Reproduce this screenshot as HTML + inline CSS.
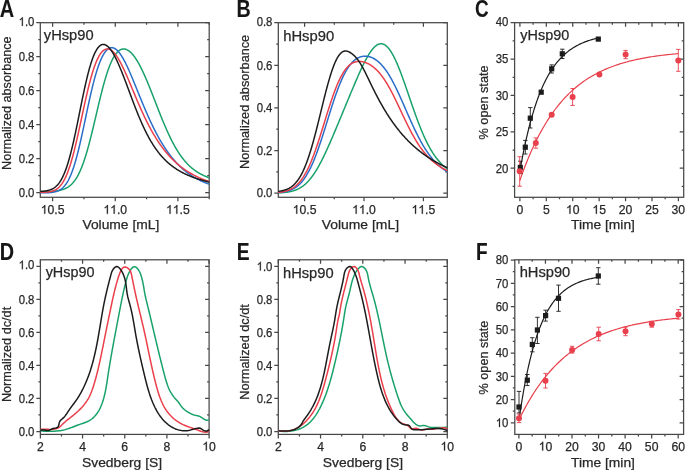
<!DOCTYPE html>
<html><head><meta charset="utf-8"><style>
html,body{margin:0;padding:0;background:#fff;}
body{width:685px;height:470px;overflow:hidden;}
svg{display:block;will-change:transform;}
text{font-family:"Liberation Sans", sans-serif;fill:#282828;stroke:#282828;stroke-width:0.25px;}
path.g1{fill:#282828;stroke:#282828;}
text.L{fill:#161616;stroke:#161616;stroke-width:0.1px;}
</style></head><body>
<svg width="685" height="470" viewBox="0 0 685 470">
<rect x="40.3" y="22.7" width="168.90" height="174.60" fill="none" stroke="#484848" stroke-width="1.25"/>
<path d="M52.60 197.3v4M52.60 22.7v4M115.25 197.3v4M115.25 22.7v4M177.90 197.3v4M177.90 22.7v4M83.93 197.3v2M83.93 22.7v2M146.58 197.3v2M146.58 22.7v2M209.22 197.3v2M209.22 22.7v2M40.3 192.50h-4M209.2 192.50h-4M40.3 158.52h-4M209.2 158.52h-4M40.3 124.54h-4M209.2 124.54h-4M40.3 90.56h-4M209.2 90.56h-4M40.3 56.58h-4M209.2 56.58h-4M40.3 22.60h-4M209.2 22.60h-4M40.3 175.51h-2M209.2 175.51h-2M40.3 141.53h-2M209.2 141.53h-2M40.3 107.55h-2M209.2 107.55h-2M40.3 73.57h-2M209.2 73.57h-2M40.3 39.59h-2M209.2 39.59h-2" stroke="#484848" stroke-width="1.25" fill="none"/>
<text x="40.73" y="213.80" font-size="12.2"> 0.5</text><path class="g1" transform="translate(40.73 213.80) scale(0.00596 -0.00596)" d="M763 0H583V1147Q518 1085 412.5 1023T223 930V1104Q374 1175 487 1276T647 1472H763Z" stroke-width="42.0"/>
<text x="103.38" y="213.80" font-size="12.2">  .0</text><path class="g1" transform="translate(103.38 213.80) scale(0.00596 -0.00596)" d="M763 0H583V1147Q518 1085 412.5 1023T223 930V1104Q374 1175 487 1276T647 1472H763Z" stroke-width="42.0"/><path class="g1" transform="translate(110.16 213.80) scale(0.00596 -0.00596)" d="M763 0H583V1147Q518 1085 412.5 1023T223 930V1104Q374 1175 487 1276T647 1472H763Z" stroke-width="42.0"/>
<text x="166.03" y="213.80" font-size="12.2">  .5</text><path class="g1" transform="translate(166.03 213.80) scale(0.00596 -0.00596)" d="M763 0H583V1147Q518 1085 412.5 1023T223 930V1104Q374 1175 487 1276T647 1472H763Z" stroke-width="42.0"/><path class="g1" transform="translate(172.81 213.80) scale(0.00596 -0.00596)" d="M763 0H583V1147Q518 1085 412.5 1023T223 930V1104Q374 1175 487 1276T647 1472H763Z" stroke-width="42.0"/>
<text x="18.63" y="196.80" font-size="12.2" textLength="15.77" lengthAdjust="spacingAndGlyphs">0.0</text>
<text x="18.63" y="162.82" font-size="12.2" textLength="15.77" lengthAdjust="spacingAndGlyphs">0.2</text>
<text x="18.63" y="128.84" font-size="12.2" textLength="15.77" lengthAdjust="spacingAndGlyphs">0.4</text>
<text x="18.63" y="94.86" font-size="12.2" textLength="15.77" lengthAdjust="spacingAndGlyphs">0.6</text>
<text x="18.63" y="60.88" font-size="12.2" textLength="15.77" lengthAdjust="spacingAndGlyphs">0.8</text>
<text x="18.63" y="25.90" font-size="12.2" textLength="15.77" lengthAdjust="spacingAndGlyphs"> .0</text><path class="g1" transform="translate(18.63 25.90) scale(0.00554 -0.00596)" d="M763 0H583V1147Q518 1085 412.5 1023T223 930V1104Q374 1175 487 1276T647 1472H763Z" stroke-width="42.0"/>
<rect x="278.3" y="22.7" width="169.00" height="174.60" fill="none" stroke="#484848" stroke-width="1.25"/>
<path d="M304.60 197.3v4M304.60 22.7v4M364.00 197.3v4M364.00 22.7v4M423.40 197.3v4M423.40 22.7v4M334.30 197.3v2M334.30 22.7v2M393.70 197.3v2M393.70 22.7v2M278.3 193.10h-4M447.3 193.10h-4M278.3 150.50h-4M447.3 150.50h-4M278.3 107.90h-4M447.3 107.90h-4M278.3 65.30h-4M447.3 65.30h-4M278.3 22.70h-4M447.3 22.70h-4M278.3 171.80h-2M447.3 171.80h-2M278.3 129.20h-2M447.3 129.20h-2M278.3 86.60h-2M447.3 86.60h-2M278.3 44.00h-2M447.3 44.00h-2" stroke="#484848" stroke-width="1.25" fill="none"/>
<text x="292.73" y="213.80" font-size="12.2"> 0.5</text><path class="g1" transform="translate(292.73 213.80) scale(0.00596 -0.00596)" d="M763 0H583V1147Q518 1085 412.5 1023T223 930V1104Q374 1175 487 1276T647 1472H763Z" stroke-width="42.0"/>
<text x="352.13" y="213.80" font-size="12.2">  .0</text><path class="g1" transform="translate(352.13 213.80) scale(0.00596 -0.00596)" d="M763 0H583V1147Q518 1085 412.5 1023T223 930V1104Q374 1175 487 1276T647 1472H763Z" stroke-width="42.0"/><path class="g1" transform="translate(358.91 213.80) scale(0.00596 -0.00596)" d="M763 0H583V1147Q518 1085 412.5 1023T223 930V1104Q374 1175 487 1276T647 1472H763Z" stroke-width="42.0"/>
<text x="411.53" y="213.80" font-size="12.2">  .5</text><path class="g1" transform="translate(411.53 213.80) scale(0.00596 -0.00596)" d="M763 0H583V1147Q518 1085 412.5 1023T223 930V1104Q374 1175 487 1276T647 1472H763Z" stroke-width="42.0"/><path class="g1" transform="translate(418.31 213.80) scale(0.00596 -0.00596)" d="M763 0H583V1147Q518 1085 412.5 1023T223 930V1104Q374 1175 487 1276T647 1472H763Z" stroke-width="42.0"/>
<text x="256.63" y="197.40" font-size="12.2" textLength="15.77" lengthAdjust="spacingAndGlyphs">0.0</text>
<text x="256.63" y="154.80" font-size="12.2" textLength="15.77" lengthAdjust="spacingAndGlyphs">0.2</text>
<text x="256.63" y="112.20" font-size="12.2" textLength="15.77" lengthAdjust="spacingAndGlyphs">0.4</text>
<text x="256.63" y="69.60" font-size="12.2" textLength="15.77" lengthAdjust="spacingAndGlyphs">0.6</text>
<text x="256.63" y="26.00" font-size="12.2" textLength="15.77" lengthAdjust="spacingAndGlyphs">0.8</text>
<rect x="514.6" y="22.7" width="169.10" height="174.60" fill="none" stroke="#484848" stroke-width="1.25"/>
<path d="M519.90 197.3v4M519.90 22.7v4M546.31 197.3v4M546.31 22.7v4M572.73 197.3v4M572.73 22.7v4M599.14 197.3v4M599.14 22.7v4M625.56 197.3v4M625.56 22.7v4M651.98 197.3v4M651.98 22.7v4M678.39 197.3v4M678.39 22.7v4M533.11 197.3v2M533.11 22.7v2M559.52 197.3v2M559.52 22.7v2M585.94 197.3v2M585.94 22.7v2M612.35 197.3v2M612.35 22.7v2M638.77 197.3v2M638.77 22.7v2M665.18 197.3v2M665.18 22.7v2M514.6 168.20h-4M683.7 168.20h-4M514.6 131.82h-4M683.7 131.82h-4M514.6 95.45h-4M683.7 95.45h-4M514.6 59.07h-4M683.7 59.07h-4M514.6 22.70h-4M683.7 22.70h-4M514.6 186.39h-2M683.7 186.39h-2M514.6 150.01h-2M683.7 150.01h-2M514.6 113.64h-2M683.7 113.64h-2M514.6 77.26h-2M683.7 77.26h-2M514.6 40.89h-2M683.7 40.89h-2" stroke="#484848" stroke-width="1.25" fill="none"/>
<text x="516.51" y="213.80" font-size="12.2">0</text>
<text x="542.92" y="213.80" font-size="12.2">5</text>
<text x="565.94" y="213.80" font-size="12.2"> 0</text><path class="g1" transform="translate(565.94 213.80) scale(0.00596 -0.00596)" d="M763 0H583V1147Q518 1085 412.5 1023T223 930V1104Q374 1175 487 1276T647 1472H763Z" stroke-width="42.0"/>
<text x="592.36" y="213.80" font-size="12.2"> 5</text><path class="g1" transform="translate(592.36 213.80) scale(0.00596 -0.00596)" d="M763 0H583V1147Q518 1085 412.5 1023T223 930V1104Q374 1175 487 1276T647 1472H763Z" stroke-width="42.0"/>
<text x="618.77" y="213.80" font-size="12.2">20</text>
<text x="645.19" y="213.80" font-size="12.2">25</text>
<text x="671.60" y="213.80" font-size="12.2">30</text>
<text x="495.78" y="172.50" font-size="12.2" textLength="12.62" lengthAdjust="spacingAndGlyphs">20</text>
<text x="495.78" y="136.12" font-size="12.2" textLength="12.62" lengthAdjust="spacingAndGlyphs">25</text>
<text x="495.78" y="99.75" font-size="12.2" textLength="12.62" lengthAdjust="spacingAndGlyphs">30</text>
<text x="495.78" y="63.37" font-size="12.2" textLength="12.62" lengthAdjust="spacingAndGlyphs">35</text>
<text x="495.78" y="26.00" font-size="12.2" textLength="12.62" lengthAdjust="spacingAndGlyphs">40</text>
<rect x="40.4" y="259.8" width="168.70" height="174.60" fill="none" stroke="#484848" stroke-width="1.25"/>
<path d="M40.40 434.4v4M40.40 259.8v4M82.57 434.4v4M82.57 259.8v4M124.75 434.4v4M124.75 259.8v4M166.92 434.4v4M166.92 259.8v4M209.10 434.4v4M209.10 259.8v4M61.49 434.4v2M61.49 259.8v2M103.66 434.4v2M103.66 259.8v2M145.84 434.4v2M145.84 259.8v2M188.01 434.4v2M188.01 259.8v2M40.4 431.50h-4M209.1 431.50h-4M40.4 398.46h-4M209.1 398.46h-4M40.4 365.42h-4M209.1 365.42h-4M40.4 332.38h-4M209.1 332.38h-4M40.4 299.34h-4M209.1 299.34h-4M40.4 266.30h-4M209.1 266.30h-4M40.4 414.98h-2M209.1 414.98h-2M40.4 381.94h-2M209.1 381.94h-2M40.4 348.90h-2M209.1 348.90h-2M40.4 315.86h-2M209.1 315.86h-2M40.4 282.82h-2M209.1 282.82h-2" stroke="#484848" stroke-width="1.25" fill="none"/>
<text x="37.01" y="450.50" font-size="12.2">2</text>
<text x="79.18" y="450.50" font-size="12.2">4</text>
<text x="121.36" y="450.50" font-size="12.2">6</text>
<text x="163.53" y="450.50" font-size="12.2">8</text>
<text x="202.31" y="450.50" font-size="12.2"> 0</text><path class="g1" transform="translate(202.31 450.50) scale(0.00596 -0.00596)" d="M763 0H583V1147Q518 1085 412.5 1023T223 930V1104Q374 1175 487 1276T647 1472H763Z" stroke-width="42.0"/>
<text x="18.63" y="435.80" font-size="12.2" textLength="15.77" lengthAdjust="spacingAndGlyphs">0.0</text>
<text x="18.63" y="402.76" font-size="12.2" textLength="15.77" lengthAdjust="spacingAndGlyphs">0.2</text>
<text x="18.63" y="369.72" font-size="12.2" textLength="15.77" lengthAdjust="spacingAndGlyphs">0.4</text>
<text x="18.63" y="336.68" font-size="12.2" textLength="15.77" lengthAdjust="spacingAndGlyphs">0.6</text>
<text x="18.63" y="303.64" font-size="12.2" textLength="15.77" lengthAdjust="spacingAndGlyphs">0.8</text>
<text x="18.63" y="269.20" font-size="12.2" textLength="15.77" lengthAdjust="spacingAndGlyphs"> .0</text><path class="g1" transform="translate(18.63 269.20) scale(0.00554 -0.00596)" d="M763 0H583V1147Q518 1085 412.5 1023T223 930V1104Q374 1175 487 1276T647 1472H763Z" stroke-width="42.0"/>
<rect x="278.3" y="259.8" width="169.00" height="174.60" fill="none" stroke="#484848" stroke-width="1.25"/>
<path d="M278.30 434.4v4M278.30 259.8v4M320.55 434.4v4M320.55 259.8v4M362.80 434.4v4M362.80 259.8v4M405.05 434.4v4M405.05 259.8v4M447.30 434.4v4M447.30 259.8v4M299.43 434.4v2M299.43 259.8v2M341.68 434.4v2M341.68 259.8v2M383.93 434.4v2M383.93 259.8v2M426.18 434.4v2M426.18 259.8v2M278.3 431.50h-4M447.3 431.50h-4M278.3 398.46h-4M447.3 398.46h-4M278.3 365.42h-4M447.3 365.42h-4M278.3 332.38h-4M447.3 332.38h-4M278.3 299.34h-4M447.3 299.34h-4M278.3 266.30h-4M447.3 266.30h-4M278.3 414.98h-2M447.3 414.98h-2M278.3 381.94h-2M447.3 381.94h-2M278.3 348.90h-2M447.3 348.90h-2M278.3 315.86h-2M447.3 315.86h-2M278.3 282.82h-2M447.3 282.82h-2" stroke="#484848" stroke-width="1.25" fill="none"/>
<text x="274.91" y="450.50" font-size="12.2">2</text>
<text x="317.16" y="450.50" font-size="12.2">4</text>
<text x="359.41" y="450.50" font-size="12.2">6</text>
<text x="401.66" y="450.50" font-size="12.2">8</text>
<text x="440.51" y="450.50" font-size="12.2"> 0</text><path class="g1" transform="translate(440.51 450.50) scale(0.00596 -0.00596)" d="M763 0H583V1147Q518 1085 412.5 1023T223 930V1104Q374 1175 487 1276T647 1472H763Z" stroke-width="42.0"/>
<text x="256.63" y="435.80" font-size="12.2" textLength="15.77" lengthAdjust="spacingAndGlyphs">0.0</text>
<text x="256.63" y="402.76" font-size="12.2" textLength="15.77" lengthAdjust="spacingAndGlyphs">0.2</text>
<text x="256.63" y="369.72" font-size="12.2" textLength="15.77" lengthAdjust="spacingAndGlyphs">0.4</text>
<text x="256.63" y="336.68" font-size="12.2" textLength="15.77" lengthAdjust="spacingAndGlyphs">0.6</text>
<text x="256.63" y="303.64" font-size="12.2" textLength="15.77" lengthAdjust="spacingAndGlyphs">0.8</text>
<text x="256.63" y="270.60" font-size="12.2" textLength="15.77" lengthAdjust="spacingAndGlyphs"> .0</text><path class="g1" transform="translate(256.63 270.60) scale(0.00554 -0.00596)" d="M763 0H583V1147Q518 1085 412.5 1023T223 930V1104Q374 1175 487 1276T647 1472H763Z" stroke-width="42.0"/>
<rect x="514.8" y="259.8" width="168.80" height="174.60" fill="none" stroke="#484848" stroke-width="1.25"/>
<path d="M518.90 434.4v4M518.90 259.8v4M545.45 434.4v4M545.45 259.8v4M572.00 434.4v4M572.00 259.8v4M598.55 434.4v4M598.55 259.8v4M625.10 434.4v4M625.10 259.8v4M651.65 434.4v4M651.65 259.8v4M678.20 434.4v4M678.20 259.8v4M532.17 434.4v2M532.17 259.8v2M558.72 434.4v2M558.72 259.8v2M585.27 434.4v2M585.27 259.8v2M611.82 434.4v2M611.82 259.8v2M638.38 434.4v2M638.38 259.8v2M664.92 434.4v2M664.92 259.8v2M514.8 422.77h-4M683.6 422.77h-4M514.8 399.52h-4M683.6 399.52h-4M514.8 376.27h-4M683.6 376.27h-4M514.8 353.01h-4M683.6 353.01h-4M514.8 329.76h-4M683.6 329.76h-4M514.8 306.51h-4M683.6 306.51h-4M514.8 283.26h-4M683.6 283.26h-4M514.8 260.00h-4M683.6 260.00h-4M514.8 411.15h-2M683.6 411.15h-2M514.8 387.89h-2M683.6 387.89h-2M514.8 364.64h-2M683.6 364.64h-2M514.8 341.39h-2M683.6 341.39h-2M514.8 318.13h-2M683.6 318.13h-2M514.8 294.88h-2M683.6 294.88h-2M514.8 271.63h-2M683.6 271.63h-2" stroke="#484848" stroke-width="1.25" fill="none"/>
<text x="515.51" y="450.50" font-size="12.2">0</text>
<text x="538.66" y="450.50" font-size="12.2"> 0</text><path class="g1" transform="translate(538.66 450.50) scale(0.00596 -0.00596)" d="M763 0H583V1147Q518 1085 412.5 1023T223 930V1104Q374 1175 487 1276T647 1472H763Z" stroke-width="42.0"/>
<text x="565.21" y="450.50" font-size="12.2">20</text>
<text x="591.76" y="450.50" font-size="12.2">30</text>
<text x="618.31" y="450.50" font-size="12.2">40</text>
<text x="644.86" y="450.50" font-size="12.2">50</text>
<text x="671.41" y="450.50" font-size="12.2">60</text>
<text x="495.78" y="427.07" font-size="12.2" textLength="12.62" lengthAdjust="spacingAndGlyphs"> 0</text><path class="g1" transform="translate(495.78 427.07) scale(0.00554 -0.00596)" d="M763 0H583V1147Q518 1085 412.5 1023T223 930V1104Q374 1175 487 1276T647 1472H763Z" stroke-width="42.0"/>
<text x="495.78" y="403.82" font-size="12.2" textLength="12.62" lengthAdjust="spacingAndGlyphs">20</text>
<text x="495.78" y="380.57" font-size="12.2" textLength="12.62" lengthAdjust="spacingAndGlyphs">30</text>
<text x="495.78" y="357.31" font-size="12.2" textLength="12.62" lengthAdjust="spacingAndGlyphs">40</text>
<text x="495.78" y="334.06" font-size="12.2" textLength="12.62" lengthAdjust="spacingAndGlyphs">50</text>
<text x="495.78" y="310.81" font-size="12.2" textLength="12.62" lengthAdjust="spacingAndGlyphs">60</text>
<text x="495.78" y="287.56" font-size="12.2" textLength="12.62" lengthAdjust="spacingAndGlyphs">70</text>
<text x="495.78" y="264.30" font-size="12.2" textLength="12.62" lengthAdjust="spacingAndGlyphs">80</text>
<text x="43.83" y="39.60" font-size="14.6" textLength="49.77" lengthAdjust="spacingAndGlyphs" >yHsp90</text>
<text x="283.16" y="40.60" font-size="14.6" textLength="51.06" lengthAdjust="spacingAndGlyphs" >hHsp90</text>
<text x="520.33" y="39.80" font-size="14.6" textLength="48.86" lengthAdjust="spacingAndGlyphs" >yHsp90</text>
<text x="45.63" y="276.50" font-size="14.6" textLength="48.86" lengthAdjust="spacingAndGlyphs" >yHsp90</text>
<text x="282.97" y="277.80" font-size="14.6" textLength="50.64" lengthAdjust="spacingAndGlyphs" >hHsp90</text>
<text x="519.67" y="276.70" font-size="14.6" textLength="50.64" lengthAdjust="spacingAndGlyphs" >hHsp90</text>
<text x="82.43" y="228.60" font-size="13.2" textLength="76.88" lengthAdjust="spacingAndGlyphs" >Volume [mL]</text>
<text x="321.73" y="228.50" font-size="13.2" textLength="77.29" lengthAdjust="spacingAndGlyphs" >Volume [mL]</text>
<text x="571.06" y="228.60" font-size="13.2" textLength="63.88" lengthAdjust="spacingAndGlyphs" >Time [min]</text>
<text x="81.98" y="466.70" font-size="13.2" textLength="80.11" lengthAdjust="spacingAndGlyphs" >Svedberg [S]</text>
<text x="322.88" y="466.70" font-size="13.2" textLength="80.11" lengthAdjust="spacingAndGlyphs" >Svedberg [S]</text>
<text x="571.06" y="467.00" font-size="13.2" textLength="63.88" lengthAdjust="spacingAndGlyphs" >Time [min]</text>
<text transform="translate(11.40 169.00) rotate(-90)" x="-1.01" y="0" font-size="13.2" textLength="133.60" lengthAdjust="spacingAndGlyphs">Normalized absorbance</text>
<text transform="translate(248.90 168.00) rotate(-90)" x="-1.02" y="0" font-size="13.2" textLength="134.21" lengthAdjust="spacingAndGlyphs">Normalized absorbance</text>
<text transform="translate(487.90 139.00) rotate(-90)" x="-0.44" y="0" font-size="13.2" textLength="73.94" lengthAdjust="spacingAndGlyphs">% open state</text>
<text transform="translate(11.20 401.10) rotate(-90)" x="-1.02" y="0" font-size="13.2" textLength="95.32" lengthAdjust="spacingAndGlyphs">Normalized dc/dt</text>
<text transform="translate(248.90 398.70) rotate(-90)" x="-1.02" y="0" font-size="13.2" textLength="95.62" lengthAdjust="spacingAndGlyphs">Normalized dc/dt</text>
<text transform="translate(487.80 394.00) rotate(-90)" x="-0.44" y="0" font-size="13.2" textLength="73.84" lengthAdjust="spacingAndGlyphs">% open state</text>
<text transform="translate(-0.20 16.70) scale(0.841 1)" x="0" y="0" font-size="23.77" font-weight="bold" class="L">A</text>
<text transform="translate(236.62 16.90) scale(0.823 1)" x="0" y="0" font-size="23.91" font-weight="bold" class="L">B</text>
<text transform="translate(475.04 17.15) scale(0.772 1)" x="0" y="0" font-size="24.51" font-weight="bold" class="L">C</text>
<text transform="translate(-0.19 260.00) scale(0.835 1)" x="0" y="0" font-size="23.77" font-weight="bold" class="L">D</text>
<text transform="translate(236.85 260.00) scale(0.792 1)" x="0" y="0" font-size="24.35" font-weight="bold" class="L">E</text>
<text transform="translate(476.06 260.00) scale(0.781 1)" x="0" y="0" font-size="24.35" font-weight="bold" class="L">F</text>
<g fill="none" stroke-width="1.5" stroke-linejoin="round" stroke-linecap="round">
<clipPath id="clipA"><rect x="40.3" y="22.7" width="168.90" height="174.60"/></clipPath>
<g clip-path="url(#clipA)">
<path d="M39.30 191.90 L39.73 191.89 L40.16 191.88 L40.58 191.88 L41.01 191.87 L41.44 191.86 L41.87 191.85 L42.30 191.84 L42.73 191.83 L43.15 191.82 L43.58 191.81 L44.01 191.80 L44.44 191.79 L44.87 191.78 L45.30 191.76 L45.72 191.75 L46.15 191.73 L46.58 191.72 L47.01 191.70 L47.44 191.68 L47.87 191.66 L48.29 191.64 L48.72 191.62 L49.15 191.60 L49.58 191.57 L50.01 191.55 L50.44 191.52 L50.86 191.49 L51.29 191.46 L51.72 191.43 L52.15 191.40 L52.58 191.36 L53.01 191.32 L53.43 191.28 L53.86 191.24 L54.29 191.20 L54.72 191.15 L55.15 191.10 L55.58 191.05 L56.00 190.99 L56.43 190.93 L56.86 190.87 L57.29 190.80 L57.72 190.73 L58.15 190.66 L58.57 190.58 L59.00 190.50 L59.43 190.41 L59.86 190.32 L60.29 190.22 L60.72 190.11 L61.14 190.00 L61.57 189.88 L62.00 189.76 L62.43 189.63 L62.86 189.49 L63.29 189.34 L63.71 189.19 L64.14 189.03 L64.57 188.85 L65.00 188.67 L65.43 188.48 L65.86 188.27 L66.28 188.06 L66.71 187.83 L67.14 187.59 L67.57 187.34 L68.00 187.07 L68.43 186.79 L68.85 186.49 L69.28 186.18 L69.71 185.85 L70.14 185.51 L70.57 185.14 L71.00 184.76 L71.42 184.36 L71.85 183.94 L72.28 183.50 L72.71 183.04 L73.14 182.56 L73.57 182.05 L73.99 181.52 L74.42 180.97 L74.85 180.39 L75.28 179.78 L75.71 179.15 L76.14 178.49 L76.56 177.81 L76.99 177.09 L77.42 176.35 L77.85 175.57 L78.28 174.77 L78.71 173.94 L79.13 173.07 L79.56 172.18 L79.99 171.25 L80.42 170.29 L80.85 169.29 L81.28 168.27 L81.70 167.21 L82.13 166.12 L82.56 164.99 L82.99 163.83 L83.42 162.64 L83.85 161.41 L84.27 160.15 L84.70 158.86 L85.13 157.54 L85.56 156.18 L85.99 154.79 L86.42 153.37 L86.84 151.92 L87.27 150.44 L87.70 148.94 L88.13 147.40 L88.56 145.84 L88.99 144.25 L89.41 142.63 L89.84 140.99 L90.27 139.33 L90.70 137.65 L91.13 135.94 L91.56 134.22 L91.98 132.48 L92.41 130.73 L92.84 128.96 L93.27 127.17 L93.70 125.38 L94.13 123.58 L94.55 121.76 L94.98 119.95 L95.41 118.12 L95.84 116.30 L96.27 114.47 L96.69 112.65 L97.12 110.83 L97.55 109.01 L97.98 107.20 L98.41 105.40 L98.84 103.60 L99.26 101.82 L99.69 100.05 L100.12 98.30 L100.55 96.56 L100.98 94.84 L101.41 93.14 L101.83 91.46 L102.26 89.80 L102.69 88.17 L103.12 86.56 L103.55 84.98 L103.98 83.42 L104.40 81.89 L104.83 80.40 L105.26 78.93 L105.69 77.49 L106.12 76.09 L106.55 74.72 L106.97 73.38 L107.40 72.08 L107.83 70.81 L108.26 69.58 L108.69 68.39 L109.12 67.23 L109.54 66.10 L109.97 65.02 L110.40 63.97 L110.83 62.96 L111.26 61.98 L111.69 61.05 L112.11 60.15 L112.54 59.28 L112.97 58.46 L113.40 57.67 L113.83 56.92 L114.26 56.20 L114.68 55.52 L115.11 54.88 L115.54 54.27 L115.97 53.70 L116.40 53.16 L116.83 52.66 L117.25 52.19 L117.68 51.75 L118.11 51.35 L118.54 50.98 L118.97 50.64 L119.40 50.34 L119.82 50.06 L120.25 49.82 L120.68 49.61 L121.11 49.43 L121.54 49.28 L121.97 49.15 L122.39 49.06 L122.82 49.00 L123.25 48.96 L123.68 48.95 L124.11 48.97 L124.54 49.01 L124.96 49.08 L125.39 49.18 L125.82 49.30 L126.25 49.45 L126.68 49.62 L127.11 49.82 L127.53 50.04 L127.96 50.29 L128.39 50.56 L128.82 50.85 L129.25 51.17 L129.68 51.51 L130.10 51.87 L130.53 52.25 L130.96 52.66 L131.39 53.09 L131.82 53.54 L132.25 54.01 L132.67 54.50 L133.10 55.01 L133.53 55.55 L133.96 56.10 L134.39 56.67 L134.82 57.27 L135.24 57.88 L135.67 58.51 L136.10 59.16 L136.53 59.83 L136.96 60.51 L137.39 61.22 L137.81 61.94 L138.24 62.68 L138.67 63.44 L139.10 64.21 L139.53 65.00 L139.96 65.81 L140.38 66.63 L140.81 67.47 L141.24 68.32 L141.67 69.18 L142.10 70.06 L142.53 70.96 L142.95 71.87 L143.38 72.79 L143.81 73.72 L144.24 74.67 L144.67 75.62 L145.10 76.59 L145.52 77.57 L145.95 78.56 L146.38 79.56 L146.81 80.57 L147.24 81.59 L147.67 82.62 L148.09 83.66 L148.52 84.70 L148.95 85.75 L149.38 86.81 L149.81 87.88 L150.24 88.95 L150.66 90.02 L151.09 91.10 L151.52 92.19 L151.95 93.28 L152.38 94.37 L152.81 95.46 L153.23 96.56 L153.66 97.66 L154.09 98.77 L154.52 99.87 L154.95 100.97 L155.37 102.08 L155.80 103.18 L156.23 104.28 L156.66 105.38 L157.09 106.48 L157.52 107.58 L157.94 108.68 L158.37 109.77 L158.80 110.86 L159.23 111.95 L159.66 113.03 L160.09 114.11 L160.51 115.18 L160.94 116.25 L161.37 117.31 L161.80 118.37 L162.23 119.42 L162.66 120.46 L163.08 121.50 L163.51 122.53 L163.94 123.55 L164.37 124.57 L164.80 125.57 L165.23 126.57 L165.65 127.56 L166.08 128.54 L166.51 129.51 L166.94 130.48 L167.37 131.43 L167.80 132.37 L168.22 133.31 L168.65 134.23 L169.08 135.14 L169.51 136.05 L169.94 136.94 L170.37 137.82 L170.79 138.69 L171.22 139.55 L171.65 140.40 L172.08 141.24 L172.51 142.07 L172.94 142.88 L173.36 143.69 L173.79 144.48 L174.22 145.26 L174.65 146.03 L175.08 146.79 L175.51 147.54 L175.93 148.27 L176.36 149.00 L176.79 149.71 L177.22 150.41 L177.65 151.10 L178.08 151.78 L178.50 152.45 L178.93 153.10 L179.36 153.75 L179.79 154.38 L180.22 155.01 L180.65 155.62 L181.07 156.22 L181.50 156.81 L181.93 157.39 L182.36 157.95 L182.79 158.51 L183.22 159.06 L183.64 159.59 L184.07 160.12 L184.50 160.64 L184.93 161.14 L185.36 161.64 L185.79 162.12 L186.21 162.60 L186.64 163.07 L187.07 163.53 L187.50 163.97 L187.93 164.41 L188.36 164.84 L188.78 165.26 L189.21 165.68 L189.64 166.08 L190.07 166.48 L190.50 166.86 L190.93 167.24 L191.35 167.62 L191.78 167.98 L192.21 168.33 L192.64 168.68 L193.07 169.02 L193.50 169.36 L193.92 169.68 L194.35 170.00 L194.78 170.32 L195.21 170.62 L195.64 170.92 L196.07 171.21 L196.49 171.50 L196.92 171.78 L197.35 172.06 L197.78 172.33 L198.21 172.59 L198.64 172.85 L199.06 173.10 L199.49 173.35 L199.92 173.59 L200.35 173.82 L200.78 174.06 L201.21 174.28 L201.63 174.51 L202.06 174.72 L202.49 174.94 L202.92 175.15 L203.35 175.35 L203.78 175.55 L204.20 175.75 L204.63 175.94 L205.06 176.13 L205.49 176.31 L205.92 176.50 L206.35 176.67 L206.77 176.85 L207.20 177.02 L207.63 177.19 L208.06 177.35 L208.49 177.51 L208.92 177.67 L209.34 177.83 L209.77 177.98 L210.20 178.13" stroke="#18a26a"/>
<path d="M39.30 192.88 L39.73 192.88 L40.16 192.88 L40.58 192.88 L41.01 192.87 L41.44 192.87 L41.87 192.86 L42.30 192.86 L42.73 192.85 L43.15 192.85 L43.58 192.84 L44.01 192.83 L44.44 192.83 L44.87 192.82 L45.30 192.80 L45.72 192.79 L46.15 192.78 L46.58 192.76 L47.01 192.75 L47.44 192.73 L47.87 192.71 L48.29 192.69 L48.72 192.66 L49.15 192.63 L49.58 192.60 L50.01 192.57 L50.44 192.53 L50.86 192.49 L51.29 192.44 L51.72 192.39 L52.15 192.34 L52.58 192.28 L53.01 192.21 L53.43 192.14 L53.86 192.06 L54.29 191.97 L54.72 191.88 L55.15 191.78 L55.58 191.67 L56.00 191.55 L56.43 191.42 L56.86 191.27 L57.29 191.12 L57.72 190.96 L58.15 190.78 L58.57 190.58 L59.00 190.38 L59.43 190.15 L59.86 189.91 L60.29 189.66 L60.72 189.38 L61.14 189.08 L61.57 188.77 L62.00 188.43 L62.43 188.07 L62.86 187.69 L63.29 187.28 L63.71 186.84 L64.14 186.38 L64.57 185.89 L65.00 185.37 L65.43 184.83 L65.86 184.25 L66.28 183.64 L66.71 182.99 L67.14 182.31 L67.57 181.60 L68.00 180.85 L68.43 180.06 L68.85 179.24 L69.28 178.37 L69.71 177.47 L70.14 176.53 L70.57 175.55 L71.00 174.52 L71.42 173.46 L71.85 172.35 L72.28 171.20 L72.71 170.01 L73.14 168.78 L73.57 167.50 L73.99 166.18 L74.42 164.82 L74.85 163.42 L75.28 161.98 L75.71 160.49 L76.14 158.97 L76.56 157.41 L76.99 155.80 L77.42 154.17 L77.85 152.49 L78.28 150.78 L78.71 149.04 L79.13 147.26 L79.56 145.46 L79.99 143.62 L80.42 141.76 L80.85 139.87 L81.28 137.96 L81.70 136.02 L82.13 134.07 L82.56 132.10 L82.99 130.11 L83.42 128.11 L83.85 126.10 L84.27 124.09 L84.70 122.06 L85.13 120.03 L85.56 118.00 L85.99 115.97 L86.42 113.94 L86.84 111.91 L87.27 109.90 L87.70 107.89 L88.13 105.90 L88.56 103.92 L88.99 101.95 L89.41 100.00 L89.84 98.07 L90.27 96.17 L90.70 94.29 L91.13 92.43 L91.56 90.60 L91.98 88.80 L92.41 87.03 L92.84 85.29 L93.27 83.58 L93.70 81.91 L94.13 80.27 L94.55 78.67 L94.98 77.10 L95.41 75.57 L95.84 74.09 L96.27 72.64 L96.69 71.23 L97.12 69.86 L97.55 68.53 L97.98 67.25 L98.41 66.00 L98.84 64.80 L99.26 63.64 L99.69 62.52 L100.12 61.44 L100.55 60.41 L100.98 59.42 L101.41 58.47 L101.83 57.56 L102.26 56.69 L102.69 55.87 L103.12 55.08 L103.55 54.34 L103.98 53.64 L104.40 52.98 L104.83 52.36 L105.26 51.78 L105.69 51.24 L106.12 50.74 L106.55 50.28 L106.97 49.86 L107.40 49.47 L107.83 49.13 L108.26 48.82 L108.69 48.55 L109.12 48.31 L109.54 48.12 L109.97 47.95 L110.40 47.83 L110.83 47.74 L111.26 47.69 L111.69 47.67 L112.11 47.68 L112.54 47.73 L112.97 47.82 L113.40 47.94 L113.83 48.09 L114.26 48.27 L114.68 48.48 L115.11 48.73 L115.54 49.01 L115.97 49.32 L116.40 49.65 L116.83 50.02 L117.25 50.42 L117.68 50.85 L118.11 51.30 L118.54 51.78 L118.97 52.29 L119.40 52.83 L119.82 53.39 L120.25 53.98 L120.68 54.59 L121.11 55.23 L121.54 55.88 L121.97 56.57 L122.39 57.27 L122.82 58.00 L123.25 58.74 L123.68 59.51 L124.11 60.30 L124.54 61.10 L124.96 61.93 L125.39 62.77 L125.82 63.62 L126.25 64.50 L126.68 65.39 L127.11 66.29 L127.53 67.21 L127.96 68.14 L128.39 69.08 L128.82 70.03 L129.25 71.00 L129.68 71.97 L130.10 72.96 L130.53 73.96 L130.96 74.96 L131.39 75.97 L131.82 76.99 L132.25 78.01 L132.67 79.04 L133.10 80.08 L133.53 81.12 L133.96 82.17 L134.39 83.21 L134.82 84.27 L135.24 85.32 L135.67 86.38 L136.10 87.44 L136.53 88.50 L136.96 89.56 L137.39 90.62 L137.81 91.68 L138.24 92.74 L138.67 93.80 L139.10 94.86 L139.53 95.91 L139.96 96.97 L140.38 98.02 L140.81 99.07 L141.24 100.11 L141.67 101.15 L142.10 102.19 L142.53 103.23 L142.95 104.26 L143.38 105.28 L143.81 106.30 L144.24 107.32 L144.67 108.33 L145.10 109.33 L145.52 110.33 L145.95 111.32 L146.38 112.31 L146.81 113.29 L147.24 114.27 L147.67 115.23 L148.09 116.20 L148.52 117.15 L148.95 118.10 L149.38 119.04 L149.81 119.97 L150.24 120.90 L150.66 121.82 L151.09 122.73 L151.52 123.63 L151.95 124.53 L152.38 125.42 L152.81 126.30 L153.23 127.17 L153.66 128.04 L154.09 128.89 L154.52 129.74 L154.95 130.58 L155.37 131.42 L155.80 132.24 L156.23 133.06 L156.66 133.87 L157.09 134.67 L157.52 135.46 L157.94 136.25 L158.37 137.03 L158.80 137.79 L159.23 138.56 L159.66 139.31 L160.09 140.05 L160.51 140.79 L160.94 141.52 L161.37 142.24 L161.80 142.95 L162.23 143.65 L162.66 144.35 L163.08 145.04 L163.51 145.72 L163.94 146.39 L164.37 147.06 L164.80 147.72 L165.23 148.36 L165.65 149.01 L166.08 149.64 L166.51 150.27 L166.94 150.89 L167.37 151.50 L167.80 152.10 L168.22 152.70 L168.65 153.29 L169.08 153.87 L169.51 154.44 L169.94 155.01 L170.37 155.57 L170.79 156.12 L171.22 156.67 L171.65 157.21 L172.08 157.74 L172.51 158.27 L172.94 158.79 L173.36 159.30 L173.79 159.80 L174.22 160.30 L174.65 160.79 L175.08 161.28 L175.51 161.76 L175.93 162.23 L176.36 162.70 L176.79 163.16 L177.22 163.61 L177.65 164.06 L178.08 164.50 L178.50 164.93 L178.93 165.36 L179.36 165.79 L179.79 166.20 L180.22 166.62 L180.65 167.02 L181.07 167.42 L181.50 167.82 L181.93 168.21 L182.36 168.59 L182.79 168.97 L183.22 169.34 L183.64 169.71 L184.07 170.07 L184.50 170.43 L184.93 170.78 L185.36 171.13 L185.79 171.47 L186.21 171.81 L186.64 172.14 L187.07 172.47 L187.50 172.79 L187.93 173.11 L188.36 173.43 L188.78 173.73 L189.21 174.04 L189.64 174.34 L190.07 174.64 L190.50 174.93 L190.93 175.21 L191.35 175.50 L191.78 175.77 L192.21 176.05 L192.64 176.32 L193.07 176.59 L193.50 176.85 L193.92 177.11 L194.35 177.36 L194.78 177.61 L195.21 177.86 L195.64 178.10 L196.07 178.34 L196.49 178.58 L196.92 178.81 L197.35 179.04 L197.78 179.26 L198.21 179.49 L198.64 179.70 L199.06 179.92 L199.49 180.13 L199.92 180.34 L200.35 180.54 L200.78 180.75 L201.21 180.95 L201.63 181.14 L202.06 181.34 L202.49 181.52 L202.92 181.71 L203.35 181.90 L203.78 182.08 L204.20 182.26 L204.63 182.43 L205.06 182.60 L205.49 182.77 L205.92 182.94 L206.35 183.11 L206.77 183.27 L207.20 183.43 L207.63 183.59 L208.06 183.74 L208.49 183.89 L208.92 184.04 L209.34 184.19 L209.77 184.33 L210.20 184.48" stroke="#2a6ec9"/>
<path d="M39.30 192.41 L39.73 192.40 L40.16 192.40 L40.58 192.40 L41.01 192.39 L41.44 192.38 L41.87 192.38 L42.30 192.37 L42.73 192.36 L43.15 192.34 L43.58 192.33 L44.01 192.31 L44.44 192.30 L44.87 192.28 L45.30 192.25 L45.72 192.23 L46.15 192.20 L46.58 192.16 L47.01 192.13 L47.44 192.08 L47.87 192.04 L48.29 191.99 L48.72 191.93 L49.15 191.86 L49.58 191.79 L50.01 191.72 L50.44 191.63 L50.86 191.54 L51.29 191.44 L51.72 191.33 L52.15 191.21 L52.58 191.07 L53.01 190.93 L53.43 190.77 L53.86 190.60 L54.29 190.42 L54.72 190.22 L55.15 190.01 L55.58 189.78 L56.00 189.53 L56.43 189.26 L56.86 188.97 L57.29 188.67 L57.72 188.34 L58.15 187.99 L58.57 187.61 L59.00 187.21 L59.43 186.79 L59.86 186.34 L60.29 185.86 L60.72 185.35 L61.14 184.82 L61.57 184.25 L62.00 183.65 L62.43 183.02 L62.86 182.35 L63.29 181.65 L63.71 180.92 L64.14 180.15 L64.57 179.34 L65.00 178.49 L65.43 177.61 L65.86 176.69 L66.28 175.73 L66.71 174.73 L67.14 173.68 L67.57 172.60 L68.00 171.48 L68.43 170.32 L68.85 169.11 L69.28 167.87 L69.71 166.58 L70.14 165.25 L70.57 163.88 L71.00 162.48 L71.42 161.03 L71.85 159.55 L72.28 158.02 L72.71 156.46 L73.14 154.86 L73.57 153.23 L73.99 151.57 L74.42 149.87 L74.85 148.13 L75.28 146.37 L75.71 144.58 L76.14 142.77 L76.56 140.92 L76.99 139.06 L77.42 137.17 L77.85 135.26 L78.28 133.33 L78.71 131.39 L79.13 129.43 L79.56 127.46 L79.99 125.48 L80.42 123.49 L80.85 121.50 L81.28 119.50 L81.70 117.50 L82.13 115.50 L82.56 113.51 L82.99 111.52 L83.42 109.53 L83.85 107.56 L84.27 105.59 L84.70 103.64 L85.13 101.71 L85.56 99.79 L85.99 97.90 L86.42 96.02 L86.84 94.17 L87.27 92.34 L87.70 90.53 L88.13 88.76 L88.56 87.01 L88.99 85.30 L89.41 83.62 L89.84 81.97 L90.27 80.35 L90.70 78.77 L91.13 77.23 L91.56 75.73 L91.98 74.26 L92.41 72.83 L92.84 71.44 L93.27 70.10 L93.70 68.79 L94.13 67.53 L94.55 66.30 L94.98 65.12 L95.41 63.99 L95.84 62.89 L96.27 61.84 L96.69 60.83 L97.12 59.86 L97.55 58.94 L97.98 58.06 L98.41 57.22 L98.84 56.42 L99.26 55.67 L99.69 54.96 L100.12 54.29 L100.55 53.66 L100.98 53.08 L101.41 52.53 L101.83 52.03 L102.26 51.56 L102.69 51.14 L103.12 50.75 L103.55 50.40 L103.98 50.10 L104.40 49.83 L104.83 49.59 L105.26 49.40 L105.69 49.24 L106.12 49.12 L106.55 49.03 L106.97 48.98 L107.40 48.96 L107.83 48.98 L108.26 49.03 L108.69 49.12 L109.12 49.24 L109.54 49.39 L109.97 49.57 L110.40 49.78 L110.83 50.03 L111.26 50.30 L111.69 50.61 L112.11 50.94 L112.54 51.30 L112.97 51.70 L113.40 52.11 L113.83 52.56 L114.26 53.03 L114.68 53.53 L115.11 54.06 L115.54 54.61 L115.97 55.18 L116.40 55.78 L116.83 56.40 L117.25 57.04 L117.68 57.71 L118.11 58.39 L118.54 59.10 L118.97 59.83 L119.40 60.57 L119.82 61.34 L120.25 62.12 L120.68 62.92 L121.11 63.74 L121.54 64.57 L121.97 65.42 L122.39 66.29 L122.82 67.17 L123.25 68.06 L123.68 68.96 L124.11 69.88 L124.54 70.81 L124.96 71.74 L125.39 72.69 L125.82 73.65 L126.25 74.62 L126.68 75.59 L127.11 76.58 L127.53 77.57 L127.96 78.56 L128.39 79.56 L128.82 80.57 L129.25 81.58 L129.68 82.60 L130.10 83.62 L130.53 84.64 L130.96 85.66 L131.39 86.69 L131.82 87.72 L132.25 88.74 L132.67 89.77 L133.10 90.80 L133.53 91.83 L133.96 92.86 L134.39 93.88 L134.82 94.90 L135.24 95.93 L135.67 96.94 L136.10 97.96 L136.53 98.97 L136.96 99.98 L137.39 100.99 L137.81 101.99 L138.24 102.98 L138.67 103.97 L139.10 104.96 L139.53 105.94 L139.96 106.91 L140.38 107.88 L140.81 108.84 L141.24 109.80 L141.67 110.75 L142.10 111.69 L142.53 112.63 L142.95 113.56 L143.38 114.48 L143.81 115.40 L144.24 116.31 L144.67 117.21 L145.10 118.10 L145.52 118.99 L145.95 119.86 L146.38 120.73 L146.81 121.60 L147.24 122.45 L147.67 123.30 L148.09 124.13 L148.52 124.97 L148.95 125.79 L149.38 126.60 L149.81 127.41 L150.24 128.21 L150.66 129.00 L151.09 129.78 L151.52 130.55 L151.95 131.32 L152.38 132.07 L152.81 132.82 L153.23 133.56 L153.66 134.30 L154.09 135.02 L154.52 135.74 L154.95 136.45 L155.37 137.15 L155.80 137.84 L156.23 138.53 L156.66 139.21 L157.09 139.88 L157.52 140.54 L157.94 141.19 L158.37 141.84 L158.80 142.48 L159.23 143.11 L159.66 143.74 L160.09 144.35 L160.51 144.96 L160.94 145.57 L161.37 146.16 L161.80 146.75 L162.23 147.33 L162.66 147.91 L163.08 148.48 L163.51 149.04 L163.94 149.59 L164.37 150.14 L164.80 150.68 L165.23 151.21 L165.65 151.74 L166.08 152.26 L166.51 152.77 L166.94 153.28 L167.37 153.78 L167.80 154.28 L168.22 154.77 L168.65 155.25 L169.08 155.73 L169.51 156.20 L169.94 156.66 L170.37 157.12 L170.79 157.58 L171.22 158.03 L171.65 158.47 L172.08 158.91 L172.51 159.34 L172.94 159.76 L173.36 160.18 L173.79 160.60 L174.22 161.01 L174.65 161.41 L175.08 161.81 L175.51 162.21 L175.93 162.60 L176.36 162.98 L176.79 163.36 L177.22 163.74 L177.65 164.11 L178.08 164.47 L178.50 164.83 L178.93 165.19 L179.36 165.54 L179.79 165.89 L180.22 166.23 L180.65 166.57 L181.07 166.90 L181.50 167.23 L181.93 167.56 L182.36 167.88 L182.79 168.20 L183.22 168.51 L183.64 168.82 L184.07 169.13 L184.50 169.43 L184.93 169.72 L185.36 170.02 L185.79 170.31 L186.21 170.59 L186.64 170.88 L187.07 171.15 L187.50 171.43 L187.93 171.70 L188.36 171.97 L188.78 172.23 L189.21 172.50 L189.64 172.75 L190.07 173.01 L190.50 173.26 L190.93 173.51 L191.35 173.75 L191.78 173.99 L192.21 174.23 L192.64 174.47 L193.07 174.70 L193.50 174.93 L193.92 175.16 L194.35 175.38 L194.78 175.60 L195.21 175.82 L195.64 176.03 L196.07 176.24 L196.49 176.45 L196.92 176.66 L197.35 176.86 L197.78 177.07 L198.21 177.27 L198.64 177.46 L199.06 177.66 L199.49 177.85 L199.92 178.03 L200.35 178.22 L200.78 178.41 L201.21 178.59 L201.63 178.77 L202.06 178.94 L202.49 179.12 L202.92 179.29 L203.35 179.46 L203.78 179.63 L204.20 179.79 L204.63 179.96 L205.06 180.12 L205.49 180.28 L205.92 180.43 L206.35 180.59 L206.77 180.74 L207.20 180.89 L207.63 181.04 L208.06 181.19 L208.49 181.34 L208.92 181.48 L209.34 181.62 L209.77 181.76 L210.20 181.90" stroke="#ea3f4b"/>
<path d="M39.30 191.43 L39.73 191.42 L40.16 191.40 L40.58 191.38 L41.01 191.35 L41.44 191.33 L41.87 191.30 L42.30 191.27 L42.73 191.23 L43.15 191.20 L43.58 191.16 L44.01 191.11 L44.44 191.06 L44.87 191.01 L45.30 190.95 L45.72 190.89 L46.15 190.82 L46.58 190.75 L47.01 190.67 L47.44 190.58 L47.87 190.49 L48.29 190.39 L48.72 190.27 L49.15 190.15 L49.58 190.02 L50.01 189.88 L50.44 189.73 L50.86 189.57 L51.29 189.39 L51.72 189.21 L52.15 189.00 L52.58 188.79 L53.01 188.55 L53.43 188.30 L53.86 188.04 L54.29 187.75 L54.72 187.45 L55.15 187.12 L55.58 186.77 L56.00 186.41 L56.43 186.01 L56.86 185.60 L57.29 185.15 L57.72 184.68 L58.15 184.19 L58.57 183.66 L59.00 183.11 L59.43 182.52 L59.86 181.90 L60.29 181.25 L60.72 180.57 L61.14 179.85 L61.57 179.09 L62.00 178.30 L62.43 177.47 L62.86 176.60 L63.29 175.69 L63.71 174.75 L64.14 173.76 L64.57 172.73 L65.00 171.65 L65.43 170.54 L65.86 169.38 L66.28 168.18 L66.71 166.94 L67.14 165.65 L67.57 164.32 L68.00 162.95 L68.43 161.53 L68.85 160.07 L69.28 158.57 L69.71 157.03 L70.14 155.44 L70.57 153.81 L71.00 152.15 L71.42 150.44 L71.85 148.70 L72.28 146.92 L72.71 145.11 L73.14 143.26 L73.57 141.38 L73.99 139.47 L74.42 137.53 L74.85 135.56 L75.28 133.57 L75.71 131.55 L76.14 129.51 L76.56 127.45 L76.99 125.38 L77.42 123.29 L77.85 121.19 L78.28 119.08 L78.71 116.96 L79.13 114.84 L79.56 112.72 L79.99 110.59 L80.42 108.47 L80.85 106.35 L81.28 104.24 L81.70 102.14 L82.13 100.05 L82.56 97.97 L82.99 95.92 L83.42 93.88 L83.85 91.86 L84.27 89.87 L84.70 87.91 L85.13 85.97 L85.56 84.07 L85.99 82.19 L86.42 80.35 L86.84 78.55 L87.27 76.78 L87.70 75.05 L88.13 73.37 L88.56 71.72 L88.99 70.12 L89.41 68.56 L89.84 67.05 L90.27 65.59 L90.70 64.17 L91.13 62.80 L91.56 61.48 L91.98 60.21 L92.41 58.98 L92.84 57.81 L93.27 56.69 L93.70 55.62 L94.13 54.60 L94.55 53.63 L94.98 52.71 L95.41 51.85 L95.84 51.03 L96.27 50.26 L96.69 49.55 L97.12 48.88 L97.55 48.26 L97.98 47.69 L98.41 47.17 L98.84 46.69 L99.26 46.26 L99.69 45.88 L100.12 45.55 L100.55 45.26 L100.98 45.01 L101.41 44.81 L101.83 44.65 L102.26 44.53 L102.69 44.46 L103.12 44.42 L103.55 44.43 L103.98 44.47 L104.40 44.55 L104.83 44.67 L105.26 44.83 L105.69 45.03 L106.12 45.25 L106.55 45.52 L106.97 45.82 L107.40 46.15 L107.83 46.51 L108.26 46.91 L108.69 47.33 L109.12 47.79 L109.54 48.28 L109.97 48.79 L110.40 49.34 L110.83 49.91 L111.26 50.51 L111.69 51.13 L112.11 51.78 L112.54 52.46 L112.97 53.16 L113.40 53.88 L113.83 54.63 L114.26 55.40 L114.68 56.19 L115.11 57.01 L115.54 57.84 L115.97 58.70 L116.40 59.57 L116.83 60.46 L117.25 61.37 L117.68 62.30 L118.11 63.24 L118.54 64.20 L118.97 65.18 L119.40 66.17 L119.82 67.17 L120.25 68.19 L120.68 69.22 L121.11 70.26 L121.54 71.32 L121.97 72.38 L122.39 73.46 L122.82 74.54 L123.25 75.64 L123.68 76.74 L124.11 77.85 L124.54 78.97 L124.96 80.09 L125.39 81.22 L125.82 82.35 L126.25 83.49 L126.68 84.63 L127.11 85.78 L127.53 86.92 L127.96 88.07 L128.39 89.22 L128.82 90.38 L129.25 91.53 L129.68 92.68 L130.10 93.83 L130.53 94.98 L130.96 96.13 L131.39 97.27 L131.82 98.42 L132.25 99.56 L132.67 100.69 L133.10 101.82 L133.53 102.95 L133.96 104.07 L134.39 105.18 L134.82 106.29 L135.24 107.40 L135.67 108.49 L136.10 109.58 L136.53 110.66 L136.96 111.74 L137.39 112.80 L137.81 113.86 L138.24 114.91 L138.67 115.95 L139.10 116.98 L139.53 118.00 L139.96 119.01 L140.38 120.01 L140.81 121.00 L141.24 121.98 L141.67 122.95 L142.10 123.91 L142.53 124.86 L142.95 125.80 L143.38 126.73 L143.81 127.65 L144.24 128.55 L144.67 129.45 L145.10 130.33 L145.52 131.20 L145.95 132.07 L146.38 132.92 L146.81 133.75 L147.24 134.58 L147.67 135.40 L148.09 136.20 L148.52 137.00 L148.95 137.78 L149.38 138.55 L149.81 139.31 L150.24 140.06 L150.66 140.80 L151.09 141.52 L151.52 142.24 L151.95 142.94 L152.38 143.64 L152.81 144.32 L153.23 145.00 L153.66 145.66 L154.09 146.31 L154.52 146.95 L154.95 147.59 L155.37 148.21 L155.80 148.82 L156.23 149.42 L156.66 150.02 L157.09 150.60 L157.52 151.17 L157.94 151.74 L158.37 152.29 L158.80 152.84 L159.23 153.38 L159.66 153.91 L160.09 154.43 L160.51 154.94 L160.94 155.44 L161.37 155.94 L161.80 156.42 L162.23 156.90 L162.66 157.37 L163.08 157.84 L163.51 158.29 L163.94 158.74 L164.37 159.18 L164.80 159.62 L165.23 160.04 L165.65 160.46 L166.08 160.87 L166.51 161.28 L166.94 161.68 L167.37 162.07 L167.80 162.46 L168.22 162.84 L168.65 163.21 L169.08 163.58 L169.51 163.94 L169.94 164.30 L170.37 164.65 L170.79 164.99 L171.22 165.33 L171.65 165.67 L172.08 166.00 L172.51 166.32 L172.94 166.64 L173.36 166.95 L173.79 167.26 L174.22 167.56 L174.65 167.86 L175.08 168.16 L175.51 168.45 L175.93 168.73 L176.36 169.01 L176.79 169.29 L177.22 169.56 L177.65 169.83 L178.08 170.09 L178.50 170.35 L178.93 170.61 L179.36 170.86 L179.79 171.11 L180.22 171.35 L180.65 171.60 L181.07 171.83 L181.50 172.07 L181.93 172.30 L182.36 172.53 L182.79 172.75 L183.22 172.97 L183.64 173.19 L184.07 173.40 L184.50 173.61 L184.93 173.82 L185.36 174.03 L185.79 174.23 L186.21 174.43 L186.64 174.63 L187.07 174.82 L187.50 175.01 L187.93 175.20 L188.36 175.39 L188.78 175.57 L189.21 175.75 L189.64 175.93 L190.07 176.11 L190.50 176.28 L190.93 176.45 L191.35 176.62 L191.78 176.79 L192.21 176.95 L192.64 177.11 L193.07 177.27 L193.50 177.43 L193.92 177.59 L194.35 177.74 L194.78 177.89 L195.21 178.04 L195.64 178.19 L196.07 178.34 L196.49 178.48 L196.92 178.62 L197.35 178.76 L197.78 178.90 L198.21 179.04 L198.64 179.17 L199.06 179.31 L199.49 179.44 L199.92 179.57 L200.35 179.70 L200.78 179.83 L201.21 179.95 L201.63 180.08 L202.06 180.20 L202.49 180.32 L202.92 180.44 L203.35 180.56 L203.78 180.67 L204.20 180.79 L204.63 180.90 L205.06 181.01 L205.49 181.12 L205.92 181.23 L206.35 181.34 L206.77 181.45 L207.20 181.55 L207.63 181.66 L208.06 181.76 L208.49 181.86 L208.92 181.97 L209.34 182.06 L209.77 182.16 L210.20 182.26" stroke="#1c1c1c"/>
</g>
<clipPath id="clipB"><rect x="278.3" y="22.7" width="169.00" height="174.60"/></clipPath>
<g clip-path="url(#clipB)">
<path d="M277.30 192.91 L277.73 192.89 L278.16 192.88 L278.59 192.86 L279.01 192.84 L279.44 192.82 L279.87 192.80 L280.30 192.78 L280.73 192.75 L281.16 192.73 L281.59 192.70 L282.01 192.67 L282.44 192.64 L282.87 192.61 L283.30 192.57 L283.73 192.53 L284.16 192.49 L284.59 192.45 L285.01 192.41 L285.44 192.36 L285.87 192.31 L286.30 192.26 L286.73 192.20 L287.16 192.14 L287.59 192.08 L288.01 192.01 L288.44 191.94 L288.87 191.87 L289.30 191.79 L289.73 191.71 L290.16 191.62 L290.59 191.53 L291.01 191.43 L291.44 191.33 L291.87 191.23 L292.30 191.11 L292.73 191.00 L293.16 190.87 L293.59 190.75 L294.01 190.61 L294.44 190.47 L294.87 190.32 L295.30 190.17 L295.73 190.01 L296.16 189.84 L296.59 189.66 L297.01 189.48 L297.44 189.29 L297.87 189.09 L298.30 188.88 L298.73 188.66 L299.16 188.44 L299.59 188.20 L300.01 187.96 L300.44 187.70 L300.87 187.44 L301.30 187.17 L301.73 186.89 L302.16 186.59 L302.59 186.29 L303.01 185.98 L303.44 185.65 L303.87 185.31 L304.30 184.97 L304.73 184.61 L305.16 184.24 L305.59 183.86 L306.01 183.46 L306.44 183.06 L306.87 182.64 L307.30 182.21 L307.73 181.77 L308.16 181.31 L308.59 180.84 L309.01 180.36 L309.44 179.87 L309.87 179.36 L310.30 178.85 L310.73 178.31 L311.16 177.77 L311.59 177.21 L312.01 176.64 L312.44 176.06 L312.87 175.46 L313.30 174.85 L313.73 174.23 L314.16 173.60 L314.59 172.95 L315.01 172.29 L315.44 171.62 L315.87 170.93 L316.30 170.24 L316.73 169.53 L317.16 168.81 L317.59 168.07 L318.01 167.33 L318.44 166.57 L318.87 165.80 L319.30 165.02 L319.73 164.23 L320.16 163.43 L320.59 162.62 L321.01 161.80 L321.44 160.97 L321.87 160.13 L322.30 159.28 L322.73 158.42 L323.16 157.55 L323.59 156.67 L324.01 155.78 L324.44 154.89 L324.87 153.98 L325.30 153.07 L325.73 152.16 L326.16 151.23 L326.59 150.30 L327.01 149.36 L327.44 148.41 L327.87 147.46 L328.30 146.51 L328.73 145.55 L329.16 144.58 L329.59 143.61 L330.01 142.63 L330.44 141.65 L330.87 140.66 L331.30 139.67 L331.73 138.68 L332.16 137.68 L332.59 136.68 L333.01 135.68 L333.44 134.67 L333.87 133.66 L334.30 132.65 L334.73 131.64 L335.16 130.62 L335.59 129.60 L336.01 128.59 L336.44 127.56 L336.87 126.54 L337.30 125.52 L337.73 124.49 L338.16 123.47 L338.59 122.44 L339.01 121.41 L339.44 120.38 L339.87 119.35 L340.30 118.32 L340.73 117.29 L341.16 116.26 L341.59 115.23 L342.01 114.19 L342.44 113.16 L342.87 112.13 L343.30 111.10 L343.73 110.06 L344.16 109.03 L344.59 108.00 L345.01 106.96 L345.44 105.93 L345.87 104.90 L346.30 103.87 L346.73 102.83 L347.16 101.80 L347.59 100.77 L348.01 99.74 L348.44 98.71 L348.87 97.68 L349.30 96.65 L349.73 95.62 L350.16 94.59 L350.59 93.57 L351.01 92.54 L351.44 91.52 L351.87 90.50 L352.30 89.48 L352.73 88.46 L353.16 87.44 L353.59 86.43 L354.01 85.42 L354.44 84.41 L354.87 83.40 L355.30 82.40 L355.73 81.40 L356.16 80.40 L356.59 79.41 L357.01 78.42 L357.44 77.44 L357.87 76.46 L358.30 75.49 L358.73 74.52 L359.16 73.56 L359.59 72.61 L360.01 71.66 L360.44 70.72 L360.87 69.78 L361.30 68.86 L361.73 67.94 L362.16 67.04 L362.59 66.14 L363.01 65.25 L363.44 64.37 L363.87 63.51 L364.30 62.65 L364.73 61.81 L365.16 60.98 L365.59 60.16 L366.01 59.35 L366.44 58.56 L366.87 57.79 L367.30 57.03 L367.73 56.28 L368.16 55.55 L368.59 54.84 L369.01 54.15 L369.44 53.47 L369.87 52.81 L370.30 52.17 L370.73 51.55 L371.16 50.95 L371.59 50.37 L372.01 49.82 L372.44 49.28 L372.87 48.77 L373.30 48.27 L373.73 47.81 L374.16 47.36 L374.59 46.94 L375.01 46.54 L375.44 46.17 L375.87 45.83 L376.30 45.51 L376.73 45.21 L377.16 44.94 L377.59 44.70 L378.01 44.49 L378.44 44.30 L378.87 44.15 L379.30 44.01 L379.73 43.91 L380.16 43.84 L380.59 43.79 L381.01 43.78 L381.44 43.79 L381.87 43.84 L382.30 43.91 L382.73 44.01 L383.16 44.14 L383.59 44.30 L384.01 44.49 L384.44 44.71 L384.87 44.96 L385.30 45.24 L385.73 45.55 L386.16 45.89 L386.59 46.26 L387.01 46.65 L387.44 47.08 L387.87 47.53 L388.30 48.02 L388.73 48.53 L389.16 49.07 L389.59 49.64 L390.01 50.23 L390.44 50.85 L390.87 51.50 L391.30 52.18 L391.73 52.88 L392.16 53.60 L392.59 54.35 L393.01 55.13 L393.44 55.93 L393.87 56.76 L394.30 57.60 L394.73 58.47 L395.16 59.36 L395.59 60.28 L396.01 61.21 L396.44 62.17 L396.87 63.14 L397.30 64.14 L397.73 65.15 L398.16 66.18 L398.59 67.22 L399.01 68.29 L399.44 69.37 L399.87 70.46 L400.30 71.57 L400.73 72.70 L401.16 73.83 L401.59 74.98 L402.01 76.14 L402.44 77.31 L402.87 78.50 L403.30 79.69 L403.73 80.89 L404.16 82.10 L404.59 83.31 L405.01 84.54 L405.44 85.77 L405.87 87.00 L406.30 88.24 L406.73 89.48 L407.16 90.73 L407.59 91.98 L408.01 93.23 L408.44 94.48 L408.87 95.74 L409.30 96.99 L409.73 98.24 L410.16 99.50 L410.59 100.75 L411.01 101.99 L411.44 103.24 L411.87 104.48 L412.30 105.72 L412.73 106.95 L413.16 108.18 L413.59 109.40 L414.01 110.61 L414.44 111.82 L414.87 113.02 L415.30 114.22 L415.73 115.40 L416.16 116.58 L416.59 117.75 L417.01 118.91 L417.44 120.06 L417.87 121.20 L418.30 122.33 L418.73 123.45 L419.16 124.55 L419.59 125.65 L420.01 126.73 L420.44 127.80 L420.87 128.86 L421.30 129.91 L421.73 130.95 L422.16 131.97 L422.59 132.98 L423.01 133.97 L423.44 134.96 L423.87 135.93 L424.30 136.88 L424.73 137.82 L425.16 138.75 L425.59 139.66 L426.01 140.56 L426.44 141.45 L426.87 142.32 L427.30 143.17 L427.73 144.02 L428.16 144.85 L428.59 145.66 L429.01 146.46 L429.44 147.25 L429.87 148.02 L430.30 148.77 L430.73 149.52 L431.16 150.25 L431.59 150.96 L432.01 151.66 L432.44 152.35 L432.87 153.03 L433.30 153.69 L433.73 154.33 L434.16 154.97 L434.59 155.59 L435.01 156.19 L435.44 156.79 L435.87 157.37 L436.30 157.94 L436.73 158.50 L437.16 159.04 L437.59 159.57 L438.01 160.09 L438.44 160.60 L438.87 161.10 L439.30 161.58 L439.73 162.06 L440.16 162.52 L440.59 162.97 L441.01 163.41 L441.44 163.85 L441.87 164.27 L442.30 164.68 L442.73 165.08 L443.16 165.47 L443.59 165.85 L444.01 166.22 L444.44 166.58 L444.87 166.94 L445.30 167.28 L445.73 167.62 L446.16 167.95 L446.59 168.27 L447.01 168.58 L447.44 168.89 L447.87 169.18 L448.30 169.47" stroke="#18a26a"/>
<path d="M277.30 192.69 L277.73 192.66 L278.16 192.63 L278.59 192.59 L279.01 192.56 L279.44 192.52 L279.87 192.48 L280.30 192.43 L280.73 192.38 L281.16 192.33 L281.59 192.28 L282.01 192.22 L282.44 192.16 L282.87 192.10 L283.30 192.03 L283.73 191.96 L284.16 191.89 L284.59 191.81 L285.01 191.72 L285.44 191.63 L285.87 191.54 L286.30 191.44 L286.73 191.33 L287.16 191.22 L287.59 191.11 L288.01 190.98 L288.44 190.85 L288.87 190.72 L289.30 190.57 L289.73 190.42 L290.16 190.26 L290.59 190.10 L291.01 189.92 L291.44 189.74 L291.87 189.55 L292.30 189.35 L292.73 189.14 L293.16 188.92 L293.59 188.69 L294.01 188.45 L294.44 188.19 L294.87 187.93 L295.30 187.66 L295.73 187.37 L296.16 187.07 L296.59 186.76 L297.01 186.44 L297.44 186.10 L297.87 185.75 L298.30 185.39 L298.73 185.01 L299.16 184.62 L299.59 184.21 L300.01 183.78 L300.44 183.35 L300.87 182.89 L301.30 182.42 L301.73 181.93 L302.16 181.43 L302.59 180.91 L303.01 180.37 L303.44 179.81 L303.87 179.24 L304.30 178.64 L304.73 178.03 L305.16 177.40 L305.59 176.75 L306.01 176.09 L306.44 175.40 L306.87 174.69 L307.30 173.97 L307.73 173.22 L308.16 172.46 L308.59 171.67 L309.01 170.87 L309.44 170.04 L309.87 169.20 L310.30 168.33 L310.73 167.45 L311.16 166.54 L311.59 165.62 L312.01 164.67 L312.44 163.71 L312.87 162.73 L313.30 161.72 L313.73 160.70 L314.16 159.66 L314.59 158.60 L315.01 157.53 L315.44 156.43 L315.87 155.32 L316.30 154.19 L316.73 153.04 L317.16 151.88 L317.59 150.70 L318.01 149.50 L318.44 148.29 L318.87 147.06 L319.30 145.83 L319.73 144.57 L320.16 143.31 L320.59 142.03 L321.01 140.74 L321.44 139.44 L321.87 138.13 L322.30 136.81 L322.73 135.48 L323.16 134.14 L323.59 132.80 L324.01 131.44 L324.44 130.09 L324.87 128.72 L325.30 127.36 L325.73 125.99 L326.16 124.61 L326.59 123.24 L327.01 121.86 L327.44 120.48 L327.87 119.11 L328.30 117.73 L328.73 116.36 L329.16 114.99 L329.59 113.62 L330.01 112.26 L330.44 110.90 L330.87 109.55 L331.30 108.21 L331.73 106.88 L332.16 105.55 L332.59 104.23 L333.01 102.92 L333.44 101.63 L333.87 100.34 L334.30 99.07 L334.73 97.81 L335.16 96.57 L335.59 95.33 L336.01 94.12 L336.44 92.92 L336.87 91.73 L337.30 90.56 L337.73 89.41 L338.16 88.27 L338.59 87.16 L339.01 86.06 L339.44 84.98 L339.87 83.92 L340.30 82.88 L340.73 81.86 L341.16 80.86 L341.59 79.88 L342.01 78.92 L342.44 77.98 L342.87 77.06 L343.30 76.17 L343.73 75.29 L344.16 74.44 L344.59 73.61 L345.01 72.80 L345.44 72.01 L345.87 71.25 L346.30 70.50 L346.73 69.78 L347.16 69.07 L347.59 68.39 L348.01 67.74 L348.44 67.10 L348.87 66.48 L349.30 65.88 L349.73 65.31 L350.16 64.75 L350.59 64.22 L351.01 63.70 L351.44 63.21 L351.87 62.73 L352.30 62.28 L352.73 61.84 L353.16 61.42 L353.59 61.02 L354.01 60.64 L354.44 60.28 L354.87 59.93 L355.30 59.60 L355.73 59.29 L356.16 58.99 L356.59 58.72 L357.01 58.45 L357.44 58.21 L357.87 57.97 L358.30 57.76 L358.73 57.56 L359.16 57.37 L359.59 57.20 L360.01 57.04 L360.44 56.90 L360.87 56.77 L361.30 56.65 L361.73 56.54 L362.16 56.45 L362.59 56.38 L363.01 56.31 L363.44 56.26 L363.87 56.22 L364.30 56.19 L364.73 56.17 L365.16 56.17 L365.59 56.18 L366.01 56.20 L366.44 56.23 L366.87 56.27 L367.30 56.32 L367.73 56.39 L368.16 56.47 L368.59 56.55 L369.01 56.65 L369.44 56.76 L369.87 56.89 L370.30 57.02 L370.73 57.17 L371.16 57.32 L371.59 57.49 L372.01 57.67 L372.44 57.86 L372.87 58.06 L373.30 58.28 L373.73 58.51 L374.16 58.75 L374.59 59.00 L375.01 59.26 L375.44 59.53 L375.87 59.82 L376.30 60.12 L376.73 60.43 L377.16 60.76 L377.59 61.10 L378.01 61.45 L378.44 61.81 L378.87 62.19 L379.30 62.58 L379.73 62.98 L380.16 63.40 L380.59 63.83 L381.01 64.27 L381.44 64.72 L381.87 65.19 L382.30 65.68 L382.73 66.17 L383.16 66.68 L383.59 67.21 L384.01 67.75 L384.44 68.30 L384.87 68.86 L385.30 69.44 L385.73 70.03 L386.16 70.64 L386.59 71.26 L387.01 71.89 L387.44 72.53 L387.87 73.19 L388.30 73.87 L388.73 74.55 L389.16 75.25 L389.59 75.96 L390.01 76.68 L390.44 77.42 L390.87 78.16 L391.30 78.92 L391.73 79.70 L392.16 80.48 L392.59 81.27 L393.01 82.08 L393.44 82.89 L393.87 83.72 L394.30 84.56 L394.73 85.40 L395.16 86.26 L395.59 87.13 L396.01 88.00 L396.44 88.89 L396.87 89.78 L397.30 90.68 L397.73 91.59 L398.16 92.50 L398.59 93.42 L399.01 94.35 L399.44 95.29 L399.87 96.23 L400.30 97.18 L400.73 98.13 L401.16 99.08 L401.59 100.04 L402.01 101.01 L402.44 101.98 L402.87 102.95 L403.30 103.92 L403.73 104.90 L404.16 105.87 L404.59 106.85 L405.01 107.83 L405.44 108.81 L405.87 109.79 L406.30 110.77 L406.73 111.75 L407.16 112.73 L407.59 113.71 L408.01 114.69 L408.44 115.66 L408.87 116.63 L409.30 117.60 L409.73 118.56 L410.16 119.53 L410.59 120.48 L411.01 121.44 L411.44 122.38 L411.87 123.33 L412.30 124.27 L412.73 125.20 L413.16 126.13 L413.59 127.05 L414.01 127.96 L414.44 128.87 L414.87 129.77 L415.30 130.66 L415.73 131.55 L416.16 132.43 L416.59 133.30 L417.01 134.16 L417.44 135.02 L417.87 135.86 L418.30 136.70 L418.73 137.53 L419.16 138.35 L419.59 139.16 L420.01 139.96 L420.44 140.75 L420.87 141.53 L421.30 142.30 L421.73 143.07 L422.16 143.82 L422.59 144.56 L423.01 145.29 L423.44 146.02 L423.87 146.73 L424.30 147.43 L424.73 148.12 L425.16 148.81 L425.59 149.48 L426.01 150.14 L426.44 150.79 L426.87 151.43 L427.30 152.07 L427.73 152.69 L428.16 153.30 L428.59 153.90 L429.01 154.49 L429.44 155.07 L429.87 155.64 L430.30 156.20 L430.73 156.76 L431.16 157.30 L431.59 157.83 L432.01 158.35 L432.44 158.87 L432.87 159.37 L433.30 159.87 L433.73 160.35 L434.16 160.83 L434.59 161.30 L435.01 161.76 L435.44 162.21 L435.87 162.65 L436.30 163.08 L436.73 163.51 L437.16 163.93 L437.59 164.33 L438.01 164.74 L438.44 165.13 L438.87 165.51 L439.30 165.89 L439.73 166.26 L440.16 166.63 L440.59 166.98 L441.01 167.33 L441.44 167.68 L441.87 168.01 L442.30 168.34 L442.73 168.66 L443.16 168.98 L443.59 169.29 L444.01 169.60 L444.44 169.89 L444.87 170.19 L445.30 170.47 L445.73 170.75 L446.16 171.03 L446.59 171.30 L447.01 171.57 L447.44 171.83 L447.87 172.08 L448.30 172.33" stroke="#2a6ec9"/>
<path d="M277.30 192.56 L277.73 192.52 L278.16 192.48 L278.59 192.43 L279.01 192.38 L279.44 192.33 L279.87 192.28 L280.30 192.22 L280.73 192.16 L281.16 192.09 L281.59 192.03 L282.01 191.95 L282.44 191.88 L282.87 191.79 L283.30 191.71 L283.73 191.62 L284.16 191.52 L284.59 191.42 L285.01 191.31 L285.44 191.19 L285.87 191.07 L286.30 190.95 L286.73 190.81 L287.16 190.67 L287.59 190.53 L288.01 190.37 L288.44 190.21 L288.87 190.03 L289.30 189.85 L289.73 189.66 L290.16 189.46 L290.59 189.26 L291.01 189.04 L291.44 188.81 L291.87 188.57 L292.30 188.32 L292.73 188.06 L293.16 187.79 L293.59 187.50 L294.01 187.20 L294.44 186.89 L294.87 186.57 L295.30 186.23 L295.73 185.88 L296.16 185.52 L296.59 185.14 L297.01 184.74 L297.44 184.33 L297.87 183.91 L298.30 183.46 L298.73 183.01 L299.16 182.53 L299.59 182.04 L300.01 181.53 L300.44 181.00 L300.87 180.46 L301.30 179.89 L301.73 179.31 L302.16 178.71 L302.59 178.09 L303.01 177.45 L303.44 176.80 L303.87 176.12 L304.30 175.42 L304.73 174.70 L305.16 173.96 L305.59 173.20 L306.01 172.43 L306.44 171.63 L306.87 170.81 L307.30 169.97 L307.73 169.10 L308.16 168.22 L308.59 167.32 L309.01 166.40 L309.44 165.45 L309.87 164.49 L310.30 163.50 L310.73 162.50 L311.16 161.48 L311.59 160.43 L312.01 159.37 L312.44 158.29 L312.87 157.19 L313.30 156.07 L313.73 154.93 L314.16 153.78 L314.59 152.60 L315.01 151.41 L315.44 150.21 L315.87 148.99 L316.30 147.75 L316.73 146.50 L317.16 145.24 L317.59 143.96 L318.01 142.67 L318.44 141.36 L318.87 140.05 L319.30 138.73 L319.73 137.39 L320.16 136.05 L320.59 134.69 L321.01 133.33 L321.44 131.97 L321.87 130.59 L322.30 129.22 L322.73 127.83 L323.16 126.45 L323.59 125.06 L324.01 123.67 L324.44 122.28 L324.87 120.89 L325.30 119.50 L325.73 118.12 L326.16 116.73 L326.59 115.35 L327.01 113.98 L327.44 112.61 L327.87 111.25 L328.30 109.89 L328.73 108.54 L329.16 107.21 L329.59 105.88 L330.01 104.56 L330.44 103.26 L330.87 101.96 L331.30 100.68 L331.73 99.42 L332.16 98.17 L332.59 96.93 L333.01 95.71 L333.44 94.51 L333.87 93.33 L334.30 92.16 L334.73 91.01 L335.16 89.88 L335.59 88.77 L336.01 87.69 L336.44 86.62 L336.87 85.57 L337.30 84.55 L337.73 83.55 L338.16 82.57 L338.59 81.61 L339.01 80.67 L339.44 79.76 L339.87 78.87 L340.30 78.01 L340.73 77.17 L341.16 76.35 L341.59 75.56 L342.01 74.79 L342.44 74.04 L342.87 73.32 L343.30 72.63 L343.73 71.95 L344.16 71.30 L344.59 70.68 L345.01 70.07 L345.44 69.50 L345.87 68.94 L346.30 68.41 L346.73 67.90 L347.16 67.41 L347.59 66.94 L348.01 66.50 L348.44 66.07 L348.87 65.67 L349.30 65.29 L349.73 64.93 L350.16 64.59 L350.59 64.27 L351.01 63.97 L351.44 63.69 L351.87 63.42 L352.30 63.18 L352.73 62.95 L353.16 62.74 L353.59 62.55 L354.01 62.37 L354.44 62.21 L354.87 62.07 L355.30 61.94 L355.73 61.82 L356.16 61.72 L356.59 61.64 L357.01 61.56 L357.44 61.51 L357.87 61.46 L358.30 61.43 L358.73 61.41 L359.16 61.40 L359.59 61.41 L360.01 61.43 L360.44 61.45 L360.87 61.49 L361.30 61.54 L361.73 61.61 L362.16 61.68 L362.59 61.76 L363.01 61.85 L363.44 61.96 L363.87 62.07 L364.30 62.19 L364.73 62.32 L365.16 62.47 L365.59 62.62 L366.01 62.78 L366.44 62.95 L366.87 63.13 L367.30 63.32 L367.73 63.52 L368.16 63.73 L368.59 63.95 L369.01 64.18 L369.44 64.42 L369.87 64.67 L370.30 64.93 L370.73 65.19 L371.16 65.47 L371.59 65.76 L372.01 66.06 L372.44 66.37 L372.87 66.69 L373.30 67.02 L373.73 67.36 L374.16 67.71 L374.59 68.07 L375.01 68.45 L375.44 68.83 L375.87 69.23 L376.30 69.63 L376.73 70.05 L377.16 70.48 L377.59 70.93 L378.01 71.38 L378.44 71.85 L378.87 72.32 L379.30 72.81 L379.73 73.32 L380.16 73.83 L380.59 74.36 L381.01 74.89 L381.44 75.45 L381.87 76.01 L382.30 76.58 L382.73 77.17 L383.16 77.77 L383.59 78.38 L384.01 79.01 L384.44 79.64 L384.87 80.29 L385.30 80.95 L385.73 81.63 L386.16 82.31 L386.59 83.00 L387.01 83.71 L387.44 84.43 L387.87 85.16 L388.30 85.89 L388.73 86.64 L389.16 87.40 L389.59 88.17 L390.01 88.95 L390.44 89.74 L390.87 90.54 L391.30 91.35 L391.73 92.17 L392.16 92.99 L392.59 93.82 L393.01 94.66 L393.44 95.51 L393.87 96.36 L394.30 97.23 L394.73 98.09 L395.16 98.97 L395.59 99.84 L396.01 100.73 L396.44 101.62 L396.87 102.51 L397.30 103.41 L397.73 104.30 L398.16 105.21 L398.59 106.11 L399.01 107.02 L399.44 107.93 L399.87 108.84 L400.30 109.75 L400.73 110.67 L401.16 111.58 L401.59 112.49 L402.01 113.40 L402.44 114.31 L402.87 115.22 L403.30 116.13 L403.73 117.03 L404.16 117.94 L404.59 118.83 L405.01 119.73 L405.44 120.62 L405.87 121.51 L406.30 122.39 L406.73 123.27 L407.16 124.15 L407.59 125.01 L408.01 125.88 L408.44 126.73 L408.87 127.58 L409.30 128.43 L409.73 129.26 L410.16 130.09 L410.59 130.92 L411.01 131.73 L411.44 132.54 L411.87 133.34 L412.30 134.13 L412.73 134.91 L413.16 135.69 L413.59 136.45 L414.01 137.21 L414.44 137.96 L414.87 138.70 L415.30 139.43 L415.73 140.15 L416.16 140.86 L416.59 141.56 L417.01 142.25 L417.44 142.93 L417.87 143.61 L418.30 144.27 L418.73 144.92 L419.16 145.57 L419.59 146.20 L420.01 146.83 L420.44 147.44 L420.87 148.05 L421.30 148.64 L421.73 149.23 L422.16 149.81 L422.59 150.37 L423.01 150.93 L423.44 151.48 L423.87 152.02 L424.30 152.55 L424.73 153.07 L425.16 153.58 L425.59 154.08 L426.01 154.58 L426.44 155.06 L426.87 155.54 L427.30 156.01 L427.73 156.47 L428.16 156.92 L428.59 157.36 L429.01 157.80 L429.44 158.22 L429.87 158.64 L430.30 159.06 L430.73 159.46 L431.16 159.86 L431.59 160.25 L432.01 160.63 L432.44 161.01 L432.87 161.37 L433.30 161.74 L433.73 162.09 L434.16 162.44 L434.59 162.78 L435.01 163.12 L435.44 163.45 L435.87 163.78 L436.30 164.10 L436.73 164.41 L437.16 164.72 L437.59 165.02 L438.01 165.32 L438.44 165.61 L438.87 165.90 L439.30 166.18 L439.73 166.46 L440.16 166.73 L440.59 167.00 L441.01 167.26 L441.44 167.52 L441.87 167.78 L442.30 168.03 L442.73 168.28 L443.16 168.52 L443.59 168.76 L444.01 168.99 L444.44 169.23 L444.87 169.46 L445.30 169.68 L445.73 169.90 L446.16 170.12 L446.59 170.34 L447.01 170.55 L447.44 170.76 L447.87 170.97 L448.30 171.17" stroke="#ea3f4b"/>
<path d="M277.30 191.45 L277.73 191.41 L278.16 191.36 L278.59 191.31 L279.01 191.26 L279.44 191.20 L279.87 191.13 L280.30 191.07 L280.73 191.00 L281.16 190.92 L281.59 190.84 L282.01 190.75 L282.44 190.66 L282.87 190.56 L283.30 190.46 L283.73 190.35 L284.16 190.23 L284.59 190.10 L285.01 189.97 L285.44 189.83 L285.87 189.68 L286.30 189.52 L286.73 189.35 L287.16 189.18 L287.59 188.99 L288.01 188.79 L288.44 188.58 L288.87 188.36 L289.30 188.13 L289.73 187.88 L290.16 187.62 L290.59 187.35 L291.01 187.07 L291.44 186.77 L291.87 186.45 L292.30 186.12 L292.73 185.77 L293.16 185.41 L293.59 185.03 L294.01 184.63 L294.44 184.21 L294.87 183.78 L295.30 183.32 L295.73 182.85 L296.16 182.35 L296.59 181.83 L297.01 181.29 L297.44 180.73 L297.87 180.15 L298.30 179.54 L298.73 178.91 L299.16 178.26 L299.59 177.58 L300.01 176.88 L300.44 176.15 L300.87 175.39 L301.30 174.61 L301.73 173.80 L302.16 172.96 L302.59 172.10 L303.01 171.21 L303.44 170.29 L303.87 169.34 L304.30 168.37 L304.73 167.37 L305.16 166.33 L305.59 165.27 L306.01 164.18 L306.44 163.06 L306.87 161.92 L307.30 160.74 L307.73 159.54 L308.16 158.31 L308.59 157.05 L309.01 155.76 L309.44 154.44 L309.87 153.10 L310.30 151.73 L310.73 150.34 L311.16 148.91 L311.59 147.47 L312.01 146.00 L312.44 144.50 L312.87 142.99 L313.30 141.45 L313.73 139.89 L314.16 138.30 L314.59 136.70 L315.01 135.08 L315.44 133.45 L315.87 131.79 L316.30 130.12 L316.73 128.44 L317.16 126.74 L317.59 125.03 L318.01 123.31 L318.44 121.58 L318.87 119.85 L319.30 118.10 L319.73 116.35 L320.16 114.60 L320.59 112.85 L321.01 111.09 L321.44 109.34 L321.87 107.58 L322.30 105.84 L322.73 104.09 L323.16 102.35 L323.59 100.62 L324.01 98.91 L324.44 97.20 L324.87 95.50 L325.30 93.82 L325.73 92.16 L326.16 90.51 L326.59 88.88 L327.01 87.27 L327.44 85.69 L327.87 84.13 L328.30 82.59 L328.73 81.07 L329.16 79.59 L329.59 78.13 L330.01 76.71 L330.44 75.31 L330.87 73.95 L331.30 72.61 L331.73 71.32 L332.16 70.06 L332.59 68.83 L333.01 67.64 L333.44 66.49 L333.87 65.38 L334.30 64.31 L334.73 63.28 L335.16 62.29 L335.59 61.34 L336.01 60.43 L336.44 59.56 L336.87 58.74 L337.30 57.96 L337.73 57.22 L338.16 56.53 L338.59 55.88 L339.01 55.27 L339.44 54.70 L339.87 54.18 L340.30 53.70 L340.73 53.26 L341.16 52.86 L341.59 52.51 L342.01 52.19 L342.44 51.92 L342.87 51.68 L343.30 51.48 L343.73 51.32 L344.16 51.20 L344.59 51.10 L345.01 51.05 L345.44 51.02 L345.87 51.03 L346.30 51.07 L346.73 51.13 L347.16 51.22 L347.59 51.34 L348.01 51.48 L348.44 51.65 L348.87 51.84 L349.30 52.04 L349.73 52.27 L350.16 52.52 L350.59 52.78 L351.01 53.06 L351.44 53.36 L351.87 53.68 L352.30 54.01 L352.73 54.35 L353.16 54.72 L353.59 55.09 L354.01 55.49 L354.44 55.90 L354.87 56.33 L355.30 56.77 L355.73 57.24 L356.16 57.72 L356.59 58.22 L357.01 58.74 L357.44 59.28 L357.87 59.85 L358.30 60.43 L358.73 61.03 L359.16 61.65 L359.59 62.30 L360.01 62.96 L360.44 63.65 L360.87 64.35 L361.30 65.07 L361.73 65.81 L362.16 66.57 L362.59 67.34 L363.01 68.13 L363.44 68.93 L363.87 69.75 L364.30 70.58 L364.73 71.42 L365.16 72.27 L365.59 73.12 L366.01 73.99 L366.44 74.86 L366.87 75.73 L367.30 76.61 L367.73 77.50 L368.16 78.38 L368.59 79.27 L369.01 80.16 L369.44 81.05 L369.87 81.94 L370.30 82.82 L370.73 83.71 L371.16 84.59 L371.59 85.47 L372.01 86.35 L372.44 87.22 L372.87 88.09 L373.30 88.96 L373.73 89.82 L374.16 90.68 L374.59 91.53 L375.01 92.38 L375.44 93.22 L375.87 94.06 L376.30 94.89 L376.73 95.72 L377.16 96.54 L377.59 97.35 L378.01 98.16 L378.44 98.97 L378.87 99.76 L379.30 100.56 L379.73 101.34 L380.16 102.12 L380.59 102.90 L381.01 103.66 L381.44 104.43 L381.87 105.18 L382.30 105.93 L382.73 106.67 L383.16 107.41 L383.59 108.14 L384.01 108.87 L384.44 109.59 L384.87 110.30 L385.30 111.00 L385.73 111.71 L386.16 112.40 L386.59 113.09 L387.01 113.77 L387.44 114.45 L387.87 115.12 L388.30 115.78 L388.73 116.44 L389.16 117.10 L389.59 117.74 L390.01 118.38 L390.44 119.02 L390.87 119.65 L391.30 120.27 L391.73 120.89 L392.16 121.51 L392.59 122.11 L393.01 122.72 L393.44 123.31 L393.87 123.91 L394.30 124.49 L394.73 125.07 L395.16 125.65 L395.59 126.22 L396.01 126.78 L396.44 127.34 L396.87 127.90 L397.30 128.45 L397.73 128.99 L398.16 129.53 L398.59 130.07 L399.01 130.60 L399.44 131.12 L399.87 131.64 L400.30 132.16 L400.73 132.67 L401.16 133.18 L401.59 133.68 L402.01 134.18 L402.44 134.67 L402.87 135.16 L403.30 135.64 L403.73 136.12 L404.16 136.59 L404.59 137.06 L405.01 137.53 L405.44 137.99 L405.87 138.45 L406.30 138.90 L406.73 139.35 L407.16 139.80 L407.59 140.24 L408.01 140.68 L408.44 141.11 L408.87 141.54 L409.30 141.96 L409.73 142.39 L410.16 142.80 L410.59 143.22 L411.01 143.63 L411.44 144.03 L411.87 144.44 L412.30 144.84 L412.73 145.23 L413.16 145.62 L413.59 146.01 L414.01 146.40 L414.44 146.78 L414.87 147.15 L415.30 147.53 L415.73 147.90 L416.16 148.27 L416.59 148.63 L417.01 148.99 L417.44 149.35 L417.87 149.70 L418.30 150.05 L418.73 150.40 L419.16 150.75 L419.59 151.09 L420.01 151.43 L420.44 151.76 L420.87 152.09 L421.30 152.42 L421.73 152.75 L422.16 153.07 L422.59 153.39 L423.01 153.71 L423.44 154.03 L423.87 154.34 L424.30 154.65 L424.73 154.95 L425.16 155.26 L425.59 155.56 L426.01 155.85 L426.44 156.15 L426.87 156.44 L427.30 156.73 L427.73 157.02 L428.16 157.30 L428.59 157.59 L429.01 157.87 L429.44 158.14 L429.87 158.42 L430.30 158.69 L430.73 158.96 L431.16 159.23 L431.59 159.49 L432.01 159.75 L432.44 160.01 L432.87 160.27 L433.30 160.53 L433.73 160.78 L434.16 161.03 L434.59 161.28 L435.01 161.52 L435.44 161.77 L435.87 162.01 L436.30 162.25 L436.73 162.49 L437.16 162.72 L437.59 162.95 L438.01 163.19 L438.44 163.41 L438.87 163.64 L439.30 163.87 L439.73 164.09 L440.16 164.31 L440.59 164.53 L441.01 164.75 L441.44 164.96 L441.87 165.17 L442.30 165.39 L442.73 165.59 L443.16 165.80 L443.59 166.01 L444.01 166.21 L444.44 166.41 L444.87 166.61 L445.30 166.81 L445.73 167.01 L446.16 167.20 L446.59 167.40 L447.01 167.59 L447.44 167.78 L447.87 167.96 L448.30 168.15" stroke="#1c1c1c"/>
</g>
<clipPath id="clipD"><rect x="40.4" y="259.8" width="168.70" height="174.60"/></clipPath>
<g clip-path="url(#clipD)">
<path d="M41.30 430.97 L42.60 431.07 L43.91 431.16 L45.23 431.24 L46.55 431.29 L47.88 431.33 L49.22 431.35 L50.55 431.35 L51.89 431.32 L53.23 431.28 L54.57 431.21 L55.90 431.11 L57.23 430.99 L58.55 430.83 L59.87 430.65 L61.17 430.44 L62.47 430.20 L63.75 429.92 L65.02 429.61 L66.27 429.27 L67.52 428.89 L68.76 428.50 L69.99 428.08 L71.21 427.64 L72.44 427.18 L73.67 426.72 L74.90 426.24 L76.14 425.77 L77.39 425.29 L78.64 424.81 L79.92 424.35 L81.20 423.89 L82.51 423.44 L83.81 422.98 L85.10 422.52 L86.38 422.02 L87.62 421.48 L88.81 420.88 L89.95 420.23 L91.04 419.51 L92.08 418.73 L93.07 417.90 L94.00 417.01 L94.90 416.08 L95.74 415.10 L96.54 414.07 L97.30 413.01 L98.02 411.92 L98.70 410.78 L99.34 409.62 L99.95 408.44 L100.52 407.23 L101.06 406.00 L101.56 404.75 L102.04 403.49 L102.49 402.22 L102.91 400.94 L103.31 399.66 L103.69 398.37 L104.04 397.09 L104.37 395.80 L104.69 394.50 L104.98 393.21 L105.26 391.91 L105.52 390.62 L105.78 389.32 L106.01 388.02 L106.24 386.72 L106.46 385.41 L106.67 384.11 L106.88 382.80 L107.08 381.50 L107.28 380.19 L107.47 378.89 L107.67 377.58 L107.86 376.27 L108.06 374.96 L108.26 373.66 L108.46 372.35 L108.67 371.04 L108.87 369.74 L109.08 368.43 L109.29 367.12 L109.51 365.82 L109.72 364.51 L109.94 363.21 L110.16 361.90 L110.38 360.59 L110.61 359.29 L110.83 357.98 L111.06 356.68 L111.29 355.37 L111.52 354.07 L111.75 352.76 L111.98 351.46 L112.22 350.15 L112.45 348.85 L112.69 347.54 L112.93 346.24 L113.17 344.93 L113.41 343.63 L113.65 342.32 L113.89 341.02 L114.13 339.72 L114.38 338.41 L114.62 337.11 L114.87 335.80 L115.11 334.50 L115.36 333.20 L115.61 331.90 L115.85 330.59 L116.10 329.29 L116.35 327.99 L116.60 326.69 L116.85 325.38 L117.09 324.08 L117.34 322.78 L117.59 321.48 L117.84 320.18 L118.09 318.88 L118.34 317.58 L118.58 316.27 L118.83 314.97 L119.08 313.67 L119.33 312.37 L119.58 311.07 L119.82 309.78 L120.07 308.48 L120.33 307.18 L120.58 305.88 L120.83 304.58 L121.09 303.29 L121.35 301.99 L121.61 300.69 L121.87 299.40 L122.14 298.10 L122.41 296.81 L122.68 295.52 L122.96 294.23 L123.24 292.93 L123.53 291.64 L123.82 290.35 L124.12 289.06 L124.42 287.78 L124.72 286.49 L125.03 285.20 L125.35 283.92 L125.68 282.64 L126.01 281.35 L126.35 280.07 L126.71 278.80 L127.10 277.53 L127.53 276.27 L128.00 275.02 L128.51 273.79 L129.09 272.57 L129.73 271.36 L130.44 270.18 L131.23 269.01 L132.11 267.94 L133.06 267.12 L134.08 266.72 L135.17 266.86 L136.25 267.44 L137.28 268.33 L138.18 269.39 L138.94 270.55 L139.59 271.77 L140.15 273.04 L140.64 274.33 L141.09 275.61 L141.50 276.90 L141.86 278.18 L142.20 279.47 L142.50 280.76 L142.78 282.05 L143.04 283.34 L143.28 284.63 L143.51 285.92 L143.73 287.22 L143.95 288.51 L144.16 289.80 L144.37 291.09 L144.60 292.39 L144.83 293.68 L145.08 294.97 L145.35 296.26 L145.64 297.56 L145.94 298.85 L146.24 300.14 L146.56 301.43 L146.88 302.73 L147.20 304.02 L147.51 305.31 L147.83 306.60 L148.15 307.89 L148.46 309.18 L148.77 310.47 L149.09 311.76 L149.40 313.05 L149.71 314.34 L150.02 315.63 L150.32 316.92 L150.63 318.21 L150.94 319.50 L151.25 320.79 L151.55 322.08 L151.86 323.37 L152.16 324.66 L152.47 325.95 L152.77 327.24 L153.07 328.52 L153.38 329.81 L153.68 331.10 L153.99 332.39 L154.29 333.68 L154.60 334.96 L154.90 336.25 L155.20 337.54 L155.51 338.83 L155.81 340.11 L156.12 341.40 L156.43 342.69 L156.73 343.97 L157.04 345.26 L157.35 346.55 L157.66 347.84 L157.97 349.12 L158.28 350.41 L158.59 351.70 L158.90 352.98 L159.22 354.27 L159.53 355.56 L159.85 356.84 L160.16 358.13 L160.48 359.42 L160.80 360.70 L161.12 361.99 L161.45 363.28 L161.77 364.56 L162.10 365.85 L162.43 367.14 L162.76 368.42 L163.09 369.71 L163.42 371.00 L163.76 372.28 L164.10 373.57 L164.44 374.86 L164.78 376.14 L165.13 377.43 L165.48 378.71 L165.85 379.99 L166.22 381.26 L166.62 382.53 L167.03 383.78 L167.46 385.03 L167.92 386.27 L168.41 387.49 L168.92 388.69 L169.47 389.88 L170.05 391.06 L170.67 392.21 L171.33 393.35 L172.03 394.46 L172.78 395.54 L173.58 396.61 L174.43 397.64 L175.33 398.65 L176.26 399.65 L177.18 400.65 L178.06 401.66 L178.86 402.72 L179.61 403.79 L180.33 404.88 L181.06 405.95 L181.84 406.99 L182.69 407.97 L183.63 408.90 L184.65 409.77 L185.72 410.58 L186.83 411.35 L187.96 412.07 L189.11 412.75 L190.27 413.37 L191.45 413.95 L192.66 414.46 L193.89 414.91 L195.15 415.28 L196.43 415.59 L197.73 415.84 L199.01 416.17 L200.21 416.65 L201.35 417.30 L202.45 418.03 L203.55 418.77 L204.67 419.45 L205.84 419.98 L207.10 420.31 L208.47 420.34 L209.99 420.01" stroke="#18a26a"/>
<path d="M41.33 429.31 L42.56 429.21 L43.85 429.19 L45.18 429.22 L46.55 429.27 L47.93 429.34 L49.33 429.40 L50.72 429.42 L52.10 429.40 L53.46 429.30 L54.78 429.11 L56.05 428.81 L57.27 428.38 L58.41 427.79 L59.49 427.05 L60.51 426.21 L61.50 425.29 L62.46 424.33 L63.43 423.38 L64.40 422.46 L65.40 421.59 L66.40 420.76 L67.42 419.95 L68.45 419.15 L69.49 418.34 L70.52 417.53 L71.56 416.71 L72.60 415.87 L73.64 415.02 L74.67 414.15 L75.69 413.27 L76.70 412.38 L77.71 411.47 L78.69 410.54 L79.66 409.60 L80.61 408.64 L81.55 407.66 L82.45 406.67 L83.34 405.65 L84.19 404.62 L85.02 403.57 L85.81 402.50 L86.57 401.41 L87.29 400.29 L87.98 399.16 L88.63 398.01 L89.24 396.83 L89.82 395.64 L90.37 394.44 L90.90 393.22 L91.39 391.98 L91.87 390.74 L92.32 389.48 L92.76 388.22 L93.18 386.95 L93.59 385.68 L93.98 384.40 L94.37 383.12 L94.75 381.84 L95.12 380.56 L95.48 379.27 L95.84 377.98 L96.19 376.69 L96.53 375.40 L96.87 374.11 L97.19 372.82 L97.52 371.52 L97.83 370.23 L98.15 368.93 L98.45 367.63 L98.75 366.33 L99.05 365.03 L99.35 363.72 L99.63 362.42 L99.92 361.12 L100.20 359.81 L100.48 358.51 L100.76 357.20 L101.03 355.89 L101.30 354.59 L101.57 353.28 L101.84 351.97 L102.10 350.66 L102.37 349.36 L102.63 348.05 L102.90 346.74 L103.16 345.43 L103.42 344.12 L103.68 342.82 L103.95 341.51 L104.21 340.20 L104.48 338.89 L104.74 337.59 L105.00 336.28 L105.27 334.97 L105.53 333.66 L105.80 332.36 L106.06 331.05 L106.33 329.74 L106.60 328.44 L106.86 327.13 L107.13 325.82 L107.39 324.52 L107.66 323.21 L107.93 321.90 L108.20 320.59 L108.46 319.29 L108.73 317.98 L109.00 316.67 L109.27 315.36 L109.54 314.05 L109.81 312.74 L110.08 311.44 L110.35 310.13 L110.62 308.82 L110.89 307.51 L111.16 306.20 L111.44 304.89 L111.71 303.58 L111.99 302.28 L112.27 300.97 L112.56 299.66 L112.85 298.36 L113.14 297.06 L113.44 295.76 L113.74 294.46 L114.04 293.16 L114.35 291.86 L114.67 290.57 L114.99 289.27 L115.31 287.98 L115.65 286.70 L115.99 285.41 L116.34 284.13 L116.69 282.85 L117.05 281.58 L117.42 280.30 L117.80 279.04 L118.19 277.77 L118.60 276.50 L119.04 275.23 L119.51 273.94 L120.04 272.64 L120.62 271.32 L121.28 270.00 L122.03 268.79 L122.88 267.80 L123.85 267.14 L124.97 266.93 L126.18 267.18 L127.40 267.79 L128.54 268.67 L129.51 269.73 L130.25 270.90 L130.80 272.15 L131.22 273.45 L131.54 274.79 L131.82 276.14 L132.08 277.49 L132.35 278.83 L132.62 280.15 L132.88 281.47 L133.15 282.79 L133.41 284.10 L133.68 285.40 L133.95 286.70 L134.22 287.99 L134.49 289.29 L134.76 290.58 L135.03 291.87 L135.31 293.15 L135.59 294.44 L135.88 295.73 L136.17 297.02 L136.46 298.31 L136.75 299.60 L137.05 300.90 L137.35 302.19 L137.66 303.48 L137.97 304.78 L138.27 306.08 L138.58 307.37 L138.89 308.67 L139.21 309.97 L139.52 311.27 L139.83 312.57 L140.15 313.87 L140.46 315.17 L140.78 316.47 L141.09 317.77 L141.40 319.07 L141.71 320.37 L142.03 321.68 L142.33 322.98 L142.64 324.28 L142.95 325.58 L143.25 326.89 L143.55 328.19 L143.85 329.49 L144.14 330.80 L144.43 332.10 L144.72 333.40 L145.01 334.70 L145.29 336.01 L145.57 337.31 L145.85 338.61 L146.13 339.92 L146.40 341.22 L146.67 342.52 L146.95 343.82 L147.22 345.13 L147.49 346.43 L147.76 347.73 L148.03 349.04 L148.30 350.34 L148.57 351.64 L148.84 352.94 L149.11 354.25 L149.38 355.55 L149.65 356.85 L149.92 358.15 L150.20 359.46 L150.47 360.76 L150.75 362.06 L151.03 363.36 L151.31 364.67 L151.59 365.97 L151.88 367.27 L152.17 368.57 L152.46 369.87 L152.75 371.18 L153.05 372.48 L153.35 373.78 L153.66 375.08 L153.96 376.38 L154.28 377.69 L154.60 378.99 L154.92 380.29 L155.24 381.59 L155.57 382.89 L155.91 384.20 L156.25 385.50 L156.60 386.80 L156.96 388.10 L157.32 389.40 L157.69 390.69 L158.08 391.98 L158.48 393.27 L158.89 394.55 L159.32 395.82 L159.76 397.08 L160.23 398.33 L160.71 399.58 L161.21 400.81 L161.74 402.03 L162.29 403.24 L162.87 404.43 L163.47 405.60 L164.10 406.76 L164.76 407.91 L165.45 409.03 L166.18 410.14 L166.93 411.22 L167.73 412.29 L168.56 413.33 L169.42 414.34 L170.32 415.34 L171.24 416.30 L172.20 417.23 L173.19 418.14 L174.21 419.01 L175.26 419.85 L176.33 420.65 L177.43 421.42 L178.55 422.14 L179.70 422.83 L180.86 423.48 L182.05 424.09 L183.25 424.66 L184.47 425.20 L185.70 425.72 L186.94 426.22 L188.19 426.69 L189.45 427.16 L190.71 427.61 L191.97 428.05 L193.23 428.49 L194.49 428.93 L195.75 429.38 L196.99 429.83 L198.23 430.30 L199.46 430.77 L200.69 431.21 L201.93 431.60 L203.19 431.90 L204.47 432.09 L205.79 432.15 L207.14 432.03 L208.55 431.72 L210.01 431.18" stroke="#ea3f4b"/>
<path d="M41.30 430.19 L42.64 429.86 L44.01 429.96 L45.36 430.25 L46.70 430.52 L47.98 430.54 L49.21 430.21 L50.43 429.66 L51.71 429.06 L53.08 428.56 L54.56 428.25 L55.99 427.96 L57.24 427.53 L58.14 426.78 L58.66 425.64 L58.97 424.28 L59.26 422.85 L59.73 421.52 L60.50 420.42 L61.49 419.49 L62.54 418.60 L63.54 417.67 L64.46 416.68 L65.31 415.64 L66.11 414.56 L66.88 413.45 L67.62 412.33 L68.36 411.19 L69.09 410.05 L69.85 408.93 L70.64 407.82 L71.45 406.73 L72.28 405.65 L73.11 404.57 L73.94 403.49 L74.75 402.39 L75.54 401.29 L76.32 400.17 L77.07 399.05 L77.81 397.91 L78.54 396.76 L79.24 395.60 L79.93 394.44 L80.60 393.26 L81.26 392.07 L81.90 390.88 L82.52 389.68 L83.13 388.47 L83.73 387.25 L84.31 386.03 L84.87 384.80 L85.42 383.56 L85.96 382.32 L86.48 381.07 L86.99 379.81 L87.49 378.56 L87.98 377.29 L88.45 376.02 L88.91 374.75 L89.36 373.47 L89.80 372.19 L90.22 370.90 L90.64 369.61 L91.04 368.32 L91.44 367.02 L91.82 365.72 L92.19 364.41 L92.56 363.10 L92.91 361.79 L93.26 360.48 L93.60 359.16 L93.93 357.84 L94.25 356.52 L94.57 355.19 L94.87 353.86 L95.17 352.53 L95.47 351.20 L95.75 349.87 L96.03 348.54 L96.31 347.20 L96.58 345.86 L96.84 344.53 L97.10 343.19 L97.35 341.85 L97.60 340.51 L97.85 339.17 L98.09 337.83 L98.33 336.49 L98.56 335.15 L98.79 333.81 L99.02 332.47 L99.25 331.13 L99.47 329.79 L99.69 328.45 L99.91 327.11 L100.13 325.78 L100.35 324.44 L100.57 323.11 L100.79 321.77 L101.01 320.44 L101.23 319.11 L101.45 317.78 L101.68 316.44 L101.90 315.11 L102.13 313.78 L102.36 312.45 L102.60 311.12 L102.84 309.78 L103.08 308.45 L103.33 307.12 L103.58 305.79 L103.84 304.46 L104.10 303.13 L104.37 301.80 L104.65 300.46 L104.93 299.13 L105.22 297.80 L105.52 296.47 L105.82 295.14 L106.12 293.80 L106.43 292.48 L106.75 291.15 L107.07 289.82 L107.39 288.50 L107.72 287.17 L108.04 285.86 L108.38 284.54 L108.71 283.22 L109.05 281.91 L109.38 280.61 L109.72 279.30 L110.06 278.00 L110.40 276.71 L110.75 275.42 L111.09 274.13 L111.46 272.85 L111.93 271.57 L112.55 270.29 L113.37 269.01 L114.40 267.81 L115.56 266.88 L116.74 266.47 L117.84 266.74 L118.85 267.53 L119.78 268.56 L120.63 269.65 L121.40 270.78 L122.11 271.95 L122.74 273.16 L123.32 274.41 L123.83 275.68 L124.29 276.97 L124.69 278.28 L125.04 279.61 L125.35 280.94 L125.61 282.28 L125.83 283.62 L126.03 284.96 L126.21 286.31 L126.37 287.65 L126.53 289.00 L126.69 290.34 L126.87 291.68 L127.06 293.02 L127.28 294.35 L127.54 295.67 L127.83 297.00 L128.15 298.31 L128.50 299.63 L128.86 300.94 L129.22 302.25 L129.59 303.56 L129.95 304.88 L130.30 306.19 L130.63 307.51 L130.96 308.83 L131.26 310.16 L131.56 311.48 L131.85 312.81 L132.12 314.14 L132.39 315.47 L132.65 316.80 L132.90 318.13 L133.14 319.47 L133.38 320.80 L133.61 322.14 L133.84 323.47 L134.07 324.81 L134.30 326.15 L134.52 327.49 L134.75 328.82 L134.97 330.16 L135.20 331.50 L135.43 332.84 L135.66 334.17 L135.89 335.51 L136.13 336.84 L136.38 338.18 L136.63 339.51 L136.88 340.85 L137.14 342.18 L137.40 343.51 L137.66 344.84 L137.93 346.17 L138.20 347.50 L138.47 348.83 L138.75 350.16 L139.03 351.49 L139.32 352.81 L139.60 354.14 L139.89 355.47 L140.18 356.79 L140.48 358.12 L140.77 359.44 L141.07 360.77 L141.38 362.09 L141.68 363.41 L141.98 364.74 L142.29 366.06 L142.60 367.38 L142.91 368.71 L143.22 370.03 L143.54 371.35 L143.85 372.67 L144.17 373.99 L144.49 375.31 L144.80 376.63 L145.13 377.95 L145.45 379.27 L145.78 380.59 L146.11 381.91 L146.45 383.22 L146.79 384.53 L147.14 385.84 L147.50 387.15 L147.87 388.46 L148.25 389.76 L148.64 391.06 L149.04 392.35 L149.45 393.64 L149.87 394.93 L150.31 396.21 L150.76 397.49 L151.23 398.76 L151.71 400.03 L152.22 401.29 L152.73 402.55 L153.27 403.80 L153.83 405.05 L154.41 406.28 L155.00 407.51 L155.62 408.73 L156.27 409.93 L156.93 411.12 L157.62 412.30 L158.34 413.46 L159.08 414.59 L159.85 415.71 L160.64 416.80 L161.47 417.87 L162.32 418.92 L163.20 419.93 L164.12 420.92 L165.06 421.87 L166.04 422.79 L167.05 423.68 L168.09 424.53 L169.17 425.34 L170.28 426.10 L171.42 426.82 L172.59 427.49 L173.79 428.11 L175.02 428.68 L176.28 429.19 L177.56 429.63 L178.88 430.01 L180.22 430.33 L181.58 430.57 L182.95 430.73 L184.32 430.80 L185.69 430.79 L187.03 430.67 L188.36 430.46 L189.67 430.19 L190.97 429.86 L192.27 429.50 L193.58 429.13 L194.90 428.76 L196.23 428.42 L197.57 428.14 L198.89 428.03 L200.15 428.23 L201.32 428.79 L202.44 429.54 L203.56 430.30 L204.72 430.88 L205.97 431.09 L207.35 430.75 L208.79 429.99 L210.03 429.62" stroke="#1c1c1c"/>
</g>
<clipPath id="clipE"><rect x="278.3" y="259.8" width="169.00" height="174.60"/></clipPath>
<g clip-path="url(#clipE)">
<path d="M279.31 430.88 L280.59 431.10 L281.89 431.26 L283.21 431.38 L284.54 431.45 L285.89 431.47 L287.25 431.44 L288.61 431.36 L289.98 431.23 L291.35 431.06 L292.71 430.83 L294.06 430.56 L295.41 430.24 L296.74 429.87 L298.05 429.45 L299.34 428.99 L300.61 428.47 L301.85 427.91 L303.06 427.30 L304.23 426.65 L305.37 425.94 L306.47 425.19 L307.53 424.39 L308.55 423.55 L309.54 422.67 L310.49 421.76 L311.41 420.80 L312.29 419.81 L313.15 418.79 L313.97 417.75 L314.77 416.67 L315.54 415.57 L316.29 414.44 L317.01 413.30 L317.71 412.14 L318.38 410.96 L319.04 409.76 L319.68 408.56 L320.29 407.34 L320.90 406.12 L321.48 404.89 L322.05 403.66 L322.61 402.42 L323.15 401.18 L323.68 399.93 L324.20 398.68 L324.71 397.43 L325.20 396.17 L325.68 394.91 L326.15 393.65 L326.60 392.38 L327.05 391.11 L327.49 389.84 L327.91 388.56 L328.33 387.28 L328.74 386.00 L329.14 384.72 L329.53 383.43 L329.91 382.14 L330.28 380.85 L330.65 379.56 L331.01 378.26 L331.37 376.97 L331.72 375.67 L332.06 374.37 L332.40 373.06 L332.73 371.76 L333.06 370.46 L333.38 369.15 L333.70 367.85 L334.02 366.54 L334.34 365.23 L334.65 363.92 L334.96 362.61 L335.26 361.30 L335.57 359.99 L335.88 358.68 L336.18 357.37 L336.48 356.06 L336.78 354.74 L337.07 353.43 L337.37 352.12 L337.66 350.80 L337.95 349.49 L338.23 348.17 L338.52 346.86 L338.80 345.54 L339.08 344.22 L339.35 342.91 L339.62 341.59 L339.89 340.27 L340.16 338.95 L340.42 337.62 L340.68 336.30 L340.94 334.98 L341.19 333.66 L341.44 332.33 L341.69 331.01 L341.93 329.68 L342.17 328.35 L342.40 327.02 L342.63 325.69 L342.86 324.36 L343.08 323.03 L343.30 321.70 L343.51 320.36 L343.72 319.03 L343.92 317.69 L344.13 316.36 L344.33 315.02 L344.54 313.69 L344.76 312.36 L344.98 311.03 L345.21 309.71 L345.46 308.40 L345.73 307.09 L346.01 305.80 L346.31 304.51 L346.63 303.22 L346.97 301.94 L347.31 300.66 L347.66 299.39 L348.01 298.10 L348.36 296.82 L348.71 295.52 L349.05 294.22 L349.37 292.90 L349.68 291.57 L349.99 290.22 L350.29 288.88 L350.59 287.52 L350.90 286.17 L351.21 284.82 L351.54 283.48 L351.89 282.14 L352.25 280.82 L352.65 279.51 L353.08 278.22 L353.54 276.95 L354.04 275.71 L354.59 274.49 L355.18 273.31 L355.83 272.16 L356.53 271.05 L357.30 269.98 L358.13 268.95 L359.04 267.97 L360.02 267.09 L361.08 266.52 L362.22 266.51 L363.40 267.10 L364.53 268.08 L365.49 269.25 L366.24 270.47 L366.82 271.74 L367.27 273.03 L367.61 274.35 L367.89 275.69 L368.13 277.03 L368.37 278.37 L368.64 279.70 L368.93 281.03 L369.24 282.34 L369.57 283.65 L369.91 284.95 L370.27 286.25 L370.64 287.55 L371.01 288.84 L371.39 290.13 L371.77 291.42 L372.16 292.71 L372.54 294.00 L372.92 295.28 L373.29 296.58 L373.65 297.87 L374.01 299.17 L374.36 300.46 L374.71 301.76 L375.05 303.06 L375.38 304.37 L375.71 305.67 L376.03 306.98 L376.35 308.29 L376.66 309.60 L376.97 310.91 L377.27 312.22 L377.57 313.53 L377.87 314.85 L378.16 316.16 L378.45 317.48 L378.74 318.80 L379.02 320.12 L379.30 321.44 L379.58 322.76 L379.85 324.08 L380.13 325.40 L380.40 326.72 L380.67 328.04 L380.94 329.36 L381.20 330.69 L381.47 332.01 L381.74 333.33 L382.00 334.66 L382.27 335.98 L382.54 337.30 L382.80 338.62 L383.07 339.95 L383.34 341.27 L383.61 342.59 L383.88 343.91 L384.15 345.23 L384.42 346.55 L384.70 347.87 L384.98 349.19 L385.26 350.51 L385.54 351.82 L385.83 353.14 L386.12 354.45 L386.41 355.77 L386.70 357.08 L387.00 358.39 L387.31 359.70 L387.62 361.01 L387.93 362.31 L388.25 363.62 L388.57 364.92 L388.90 366.23 L389.23 367.53 L389.56 368.83 L389.90 370.13 L390.24 371.42 L390.59 372.72 L390.94 374.02 L391.30 375.31 L391.66 376.61 L392.03 377.90 L392.40 379.20 L392.77 380.49 L393.15 381.78 L393.53 383.07 L393.92 384.36 L394.31 385.65 L394.71 386.94 L395.11 388.24 L395.51 389.53 L395.92 390.82 L396.34 392.10 L396.76 393.39 L397.18 394.68 L397.61 395.97 L398.04 397.26 L398.48 398.55 L398.94 399.83 L399.41 401.10 L399.90 402.36 L400.41 403.60 L400.94 404.83 L401.51 406.05 L402.10 407.24 L402.73 408.42 L403.39 409.56 L404.09 410.69 L404.83 411.78 L405.60 412.86 L406.41 413.92 L407.25 414.96 L408.10 415.99 L408.98 417.02 L409.88 418.04 L410.79 419.06 L411.71 420.09 L412.63 421.13 L413.57 422.16 L414.54 423.14 L415.55 424.04 L416.63 424.82 L417.78 425.45 L418.99 425.84 L420.26 425.92 L421.55 425.75 L422.86 425.54 L424.15 425.47 L425.41 425.68 L426.66 426.10 L427.90 426.61 L429.17 427.03 L430.48 427.28 L431.81 427.39 L433.16 427.42 L434.53 427.41 L435.88 427.41 L437.24 427.45 L438.59 427.50 L439.94 427.54 L441.28 427.54 L442.62 427.51 L443.96 427.45 L445.30 427.37 L446.65 427.31 L448.00 427.28" stroke="#18a26a"/>
<path d="M279.21 430.84 L280.69 431.08 L282.14 431.24 L283.58 431.32 L284.99 431.32 L286.39 431.25 L287.75 431.10 L289.10 430.88 L290.42 430.60 L291.72 430.25 L293.00 429.83 L294.25 429.36 L295.47 428.83 L296.67 428.24 L297.85 427.60 L299.00 426.91 L300.13 426.17 L301.23 425.38 L302.31 424.55 L303.36 423.68 L304.38 422.77 L305.38 421.83 L306.35 420.85 L307.29 419.84 L308.20 418.80 L309.09 417.74 L309.95 416.65 L310.78 415.54 L311.59 414.42 L312.36 413.27 L313.11 412.12 L313.83 410.95 L314.52 409.76 L315.18 408.57 L315.83 407.36 L316.44 406.15 L317.04 404.92 L317.61 403.68 L318.16 402.43 L318.70 401.18 L319.21 399.91 L319.71 398.64 L320.19 397.36 L320.65 396.08 L321.10 394.78 L321.53 393.49 L321.96 392.18 L322.37 390.87 L322.77 389.56 L323.16 388.25 L323.55 386.93 L323.92 385.61 L324.29 384.28 L324.66 382.96 L325.02 381.63 L325.38 380.31 L325.73 378.98 L326.08 377.65 L326.43 376.33 L326.78 375.00 L327.13 373.67 L327.47 372.35 L327.81 371.02 L328.15 369.70 L328.48 368.37 L328.81 367.04 L329.14 365.71 L329.47 364.39 L329.79 363.06 L330.11 361.73 L330.42 360.40 L330.73 359.07 L331.04 357.74 L331.34 356.41 L331.64 355.07 L331.94 353.74 L332.23 352.41 L332.52 351.07 L332.80 349.73 L333.08 348.40 L333.35 347.06 L333.62 345.72 L333.88 344.37 L334.14 343.03 L334.40 341.69 L334.65 340.34 L334.89 338.99 L335.13 337.65 L335.36 336.30 L335.59 334.94 L335.81 333.59 L336.03 332.23 L336.24 330.88 L336.44 329.52 L336.64 328.15 L336.84 326.80 L337.04 325.44 L337.26 324.09 L337.48 322.75 L337.73 321.41 L338.00 320.10 L338.30 318.79 L338.62 317.50 L338.93 316.21 L339.23 314.90 L339.50 313.57 L339.74 312.23 L339.96 310.87 L340.17 309.51 L340.39 308.15 L340.62 306.79 L340.87 305.44 L341.12 304.09 L341.39 302.75 L341.67 301.41 L341.96 300.08 L342.25 298.74 L342.55 297.41 L342.86 296.09 L343.18 294.76 L343.50 293.44 L343.83 292.11 L344.16 290.79 L344.49 289.47 L344.83 288.14 L345.17 286.82 L345.51 285.49 L345.84 284.16 L346.18 282.83 L346.52 281.50 L346.85 280.16 L347.19 278.82 L347.51 277.48 L347.84 276.13 L348.17 274.78 L348.53 273.45 L348.96 272.14 L349.49 270.87 L350.14 269.65 L350.95 268.49 L351.94 267.44 L353.06 266.69 L354.23 266.48 L355.37 266.97 L356.42 267.98 L357.33 269.27 L358.05 270.60 L358.58 271.91 L358.99 273.22 L359.31 274.52 L359.60 275.82 L359.90 277.12 L360.23 278.42 L360.59 279.73 L360.97 281.04 L361.36 282.36 L361.76 283.67 L362.16 284.99 L362.56 286.31 L362.95 287.64 L363.32 288.96 L363.70 290.28 L364.06 291.61 L364.42 292.93 L364.77 294.26 L365.11 295.59 L365.45 296.91 L365.78 298.24 L366.10 299.57 L366.42 300.90 L366.73 302.24 L367.04 303.57 L367.34 304.90 L367.64 306.24 L367.93 307.57 L368.21 308.91 L368.49 310.24 L368.77 311.58 L369.04 312.92 L369.31 314.26 L369.58 315.60 L369.84 316.94 L370.09 318.28 L370.35 319.62 L370.60 320.97 L370.84 322.31 L371.09 323.65 L371.33 325.00 L371.56 326.34 L371.80 327.69 L372.03 329.04 L372.27 330.38 L372.50 331.73 L372.72 333.08 L372.95 334.43 L373.17 335.78 L373.40 337.13 L373.62 338.48 L373.84 339.83 L374.07 341.18 L374.29 342.53 L374.51 343.89 L374.73 345.24 L374.95 346.59 L375.17 347.95 L375.39 349.30 L375.62 350.66 L375.84 352.01 L376.07 353.36 L376.29 354.72 L376.52 356.07 L376.76 357.43 L376.99 358.78 L377.23 360.13 L377.48 361.48 L377.72 362.83 L377.97 364.18 L378.23 365.53 L378.49 366.88 L378.75 368.22 L379.02 369.56 L379.30 370.91 L379.58 372.25 L379.87 373.59 L380.16 374.92 L380.46 376.26 L380.77 377.59 L381.09 378.92 L381.41 380.25 L381.74 381.58 L382.08 382.90 L382.43 384.22 L382.79 385.54 L383.16 386.86 L383.54 388.17 L383.92 389.48 L384.32 390.78 L384.73 392.08 L385.15 393.38 L385.58 394.68 L386.02 395.97 L386.47 397.26 L386.94 398.54 L387.42 399.82 L387.91 401.10 L388.41 402.37 L388.93 403.64 L389.46 404.90 L390.00 406.16 L390.56 407.41 L391.13 408.66 L391.72 409.90 L392.32 411.14 L392.94 412.38 L393.58 413.60 L394.24 414.81 L394.93 416.00 L395.66 417.15 L396.44 418.25 L397.26 419.31 L398.15 420.31 L399.10 421.23 L400.12 422.08 L401.22 422.84 L402.41 423.51 L403.69 424.07 L405.07 424.53 L406.47 424.97 L407.77 425.58 L408.86 426.49 L409.77 427.62 L410.64 428.61 L411.64 429.09 L412.86 428.93 L414.22 428.48 L415.60 428.17 L416.92 428.34 L418.19 428.88 L419.44 429.49 L420.72 429.88 L422.04 429.93 L423.40 429.74 L424.77 429.46 L426.15 429.23 L427.53 429.12 L428.91 429.12 L430.28 429.16 L431.64 429.19 L433.00 429.15 L434.36 429.03 L435.72 428.84 L437.07 428.61 L438.42 428.37 L439.78 428.15 L441.14 427.96 L442.50 427.85 L443.86 427.83 L445.23 427.93 L446.61 428.18 L448.00 428.60" stroke="#ea3f4b"/>
<path d="M279.31 430.85 L280.65 430.93 L282.01 430.98 L283.38 431.02 L284.76 431.02 L286.14 430.98 L287.52 430.89 L288.90 430.75 L290.26 430.56 L291.60 430.29 L292.91 429.95 L294.20 429.52 L295.45 429.01 L296.66 428.40 L297.83 427.68 L298.94 426.86 L299.99 425.92 L300.94 424.88 L301.72 423.78 L302.34 422.63 L302.93 421.47 L303.61 420.33 L304.39 419.21 L305.23 418.11 L306.09 417.00 L306.92 415.88 L307.73 414.74 L308.51 413.60 L309.27 412.45 L310.01 411.29 L310.73 410.12 L311.42 408.94 L312.09 407.75 L312.75 406.55 L313.38 405.34 L313.99 404.13 L314.58 402.90 L315.16 401.67 L315.71 400.43 L316.25 399.18 L316.77 397.93 L317.27 396.67 L317.76 395.40 L318.24 394.13 L318.69 392.85 L319.14 391.56 L319.57 390.27 L319.98 388.97 L320.38 387.67 L320.77 386.36 L321.15 385.05 L321.52 383.73 L321.88 382.41 L322.22 381.08 L322.56 379.75 L322.89 378.42 L323.21 377.09 L323.52 375.75 L323.82 374.41 L324.12 373.06 L324.41 371.72 L324.69 370.37 L324.97 369.02 L325.25 367.67 L325.51 366.32 L325.78 364.96 L326.04 363.61 L326.30 362.25 L326.56 360.90 L326.81 359.55 L327.07 358.19 L327.32 356.84 L327.57 355.49 L327.83 354.13 L328.08 352.78 L328.34 351.44 L328.60 350.09 L328.86 348.74 L329.12 347.40 L329.39 346.06 L329.66 344.72 L329.93 343.39 L330.21 342.06 L330.49 340.73 L330.78 339.40 L331.06 338.07 L331.35 336.75 L331.64 335.42 L331.92 334.10 L332.21 332.77 L332.49 331.45 L332.77 330.12 L333.04 328.79 L333.31 327.46 L333.58 326.12 L333.84 324.79 L334.09 323.45 L334.34 322.11 L334.58 320.76 L334.81 319.41 L335.03 318.05 L335.25 316.69 L335.46 315.33 L335.67 313.97 L335.89 312.61 L336.11 311.25 L336.35 309.89 L336.59 308.54 L336.86 307.20 L337.13 305.86 L337.42 304.52 L337.71 303.19 L338.01 301.85 L338.33 300.53 L338.64 299.20 L338.97 297.88 L339.29 296.55 L339.62 295.23 L339.95 293.91 L340.28 292.58 L340.61 291.26 L340.93 289.94 L341.26 288.61 L341.57 287.28 L341.88 285.95 L342.19 284.61 L342.48 283.27 L342.77 281.93 L343.04 280.58 L343.30 279.23 L343.55 277.87 L343.78 276.50 L344.01 275.13 L344.26 273.77 L344.59 272.43 L345.03 271.13 L345.63 269.87 L346.43 268.69 L347.47 267.59 L348.66 266.75 L349.85 266.42 L350.91 266.80 L351.83 267.71 L352.64 268.90 L353.38 270.15 L354.05 271.40 L354.67 272.66 L355.22 273.93 L355.74 275.21 L356.21 276.49 L356.64 277.78 L357.04 279.07 L357.42 280.37 L357.79 281.68 L358.14 282.99 L358.48 284.31 L358.83 285.63 L359.17 286.95 L359.52 288.28 L359.87 289.61 L360.22 290.94 L360.56 292.27 L360.90 293.61 L361.24 294.94 L361.57 296.28 L361.90 297.62 L362.22 298.95 L362.54 300.29 L362.85 301.63 L363.16 302.97 L363.46 304.31 L363.75 305.64 L364.05 306.98 L364.33 308.32 L364.62 309.66 L364.90 311.00 L365.17 312.34 L365.45 313.68 L365.72 315.02 L365.98 316.36 L366.25 317.70 L366.51 319.04 L366.76 320.38 L367.02 321.72 L367.27 323.06 L367.52 324.40 L367.77 325.74 L368.02 327.08 L368.27 328.43 L368.51 329.77 L368.76 331.11 L369.00 332.45 L369.24 333.79 L369.48 335.13 L369.72 336.48 L369.96 337.82 L370.20 339.16 L370.44 340.50 L370.69 341.85 L370.93 343.19 L371.17 344.53 L371.41 345.87 L371.66 347.22 L371.90 348.56 L372.15 349.90 L372.40 351.25 L372.65 352.59 L372.90 353.93 L373.16 355.27 L373.41 356.62 L373.67 357.96 L373.93 359.30 L374.20 360.65 L374.47 361.99 L374.74 363.33 L375.01 364.68 L375.29 366.02 L375.58 367.36 L375.86 368.71 L376.15 370.05 L376.45 371.40 L376.75 372.74 L377.05 374.08 L377.36 375.43 L377.67 376.77 L377.99 378.11 L378.32 379.45 L378.66 380.79 L379.00 382.13 L379.35 383.46 L379.71 384.80 L380.08 386.12 L380.46 387.45 L380.86 388.77 L381.26 390.08 L381.68 391.39 L382.11 392.69 L382.55 393.99 L383.01 395.27 L383.49 396.56 L383.98 397.83 L384.49 399.09 L385.01 400.35 L385.55 401.59 L386.12 402.83 L386.70 404.06 L387.30 405.27 L387.92 406.47 L388.56 407.66 L389.23 408.84 L389.92 410.01 L390.63 411.16 L391.37 412.30 L392.13 413.42 L392.91 414.53 L393.72 415.63 L394.56 416.70 L395.43 417.77 L396.32 418.81 L397.25 419.84 L398.20 420.85 L399.19 421.81 L400.23 422.70 L401.34 423.48 L402.52 424.12 L403.78 424.59 L405.15 424.86 L406.60 424.92 L408.02 425.04 L409.21 425.58 L410.12 426.63 L410.93 427.87 L411.81 428.95 L412.91 429.55 L414.22 429.72 L415.62 429.69 L417.02 429.66 L418.40 429.67 L419.76 429.69 L421.11 429.69 L422.47 429.65 L423.83 429.57 L425.19 429.46 L426.56 429.34 L427.92 429.20 L429.29 429.06 L430.65 428.92 L432.02 428.79 L433.38 428.68 L434.74 428.60 L436.09 428.55 L437.44 428.54 L438.78 428.58 L440.12 428.67 L441.46 428.83 L442.78 429.07 L444.10 429.38 L445.41 429.78 L446.70 430.28 L447.99 430.87" stroke="#1c1c1c"/>
</g>
</g>
<g clip-path="url(#clipkC)">
<clipPath id="clipkC"><rect x="514.6" y="22.7" width="169.10" height="174.60"/></clipPath>
<path d="M519.90 171.02 L520.57 167.26 L521.23 163.59 L521.90 160.03 L522.56 156.56 L523.23 153.19 L523.90 149.91 L524.56 146.71 L525.23 143.61 L525.89 140.59 L526.56 137.65 L527.23 134.79 L527.89 132.01 L528.56 129.30 L529.22 126.67 L529.89 124.11 L530.55 121.62 L531.22 119.20 L531.89 116.84 L532.55 114.55 L533.22 112.32 L533.88 110.15 L534.55 108.04 L535.22 105.99 L535.88 103.99 L536.55 102.05 L537.21 100.16 L537.88 98.32 L538.55 96.53 L539.21 94.79 L539.88 93.10 L540.54 91.45 L541.21 89.85 L541.88 88.30 L542.54 86.78 L543.21 85.31 L543.87 83.87 L544.54 82.48 L545.21 81.12 L545.87 79.80 L546.54 78.52 L547.20 77.27 L547.87 76.05 L548.53 74.87 L549.20 73.72 L549.87 72.60 L550.53 71.51 L551.20 70.45 L551.86 69.42 L552.53 68.42 L553.20 67.45 L553.86 66.50 L554.53 65.58 L555.19 64.68 L555.86 63.81 L556.53 62.96 L557.19 62.13 L557.86 61.33 L558.52 60.55 L559.19 59.79 L559.86 59.05 L560.52 58.33 L561.19 57.63 L561.85 56.95 L562.52 56.28 L563.19 55.64 L563.85 55.01 L564.52 54.40 L565.18 53.81 L565.85 53.23 L566.51 52.67 L567.18 52.13 L567.85 51.60 L568.51 51.08 L569.18 50.58 L569.84 50.09 L570.51 49.61 L571.18 49.15 L571.84 48.70 L572.51 48.26 L573.17 47.84 L573.84 47.42 L574.51 47.02 L575.17 46.63 L575.84 46.24 L576.50 45.87 L577.17 45.51 L577.84 45.16 L578.50 44.82 L579.17 44.49 L579.83 44.16 L580.50 43.85 L581.17 43.54 L581.83 43.25 L582.50 42.96 L583.16 42.68 L583.83 42.40 L584.49 42.14 L585.16 41.88 L585.83 41.62 L586.49 41.38 L587.16 41.14 L587.82 40.91 L588.49 40.68 L589.16 40.46 L589.82 40.25 L590.49 40.04 L591.15 39.84 L591.82 39.64 L592.49 39.45 L593.15 39.27 L593.82 39.08 L594.48 38.91 L595.15 38.74 L595.82 38.57 L596.48 38.41 L597.15 38.25 L597.81 38.10 L598.48 37.95 L599.14 37.80" fill="none" stroke="#1c1c1c" stroke-width="1.2"/>
<path d="M519.90 180.43 L521.23 176.61 L522.56 172.91 L523.90 169.32 L525.23 165.83 L526.56 162.44 L527.89 159.15 L529.22 155.96 L530.55 152.86 L531.89 149.85 L533.22 146.93 L534.55 144.10 L535.88 141.34 L537.21 138.67 L538.55 136.08 L539.88 133.56 L541.21 131.11 L542.54 128.74 L543.87 126.43 L545.21 124.20 L546.54 122.02 L547.87 119.91 L549.20 117.87 L550.53 115.88 L551.86 113.95 L553.20 112.08 L554.53 110.26 L555.86 108.49 L557.19 106.78 L558.52 105.12 L559.86 103.50 L561.19 101.93 L562.52 100.41 L563.85 98.93 L565.18 97.50 L566.51 96.11 L567.85 94.75 L569.18 93.44 L570.51 92.17 L571.84 90.93 L573.17 89.73 L574.51 88.56 L575.84 87.43 L577.17 86.33 L578.50 85.26 L579.83 84.23 L581.17 83.22 L582.50 82.25 L583.83 81.30 L585.16 80.38 L586.49 79.49 L587.82 78.62 L589.16 77.78 L590.49 76.96 L591.82 76.17 L593.15 75.40 L594.48 74.65 L595.82 73.92 L597.15 73.22 L598.48 72.53 L599.81 71.87 L601.14 71.22 L602.47 70.60 L603.81 69.99 L605.14 69.40 L606.47 68.83 L607.80 68.27 L609.13 67.73 L610.47 67.21 L611.80 66.70 L613.13 66.21 L614.46 65.73 L615.79 65.26 L617.12 64.81 L618.46 64.37 L619.79 63.94 L621.12 63.53 L622.45 63.13 L623.78 62.74 L625.12 62.36 L626.45 61.99 L627.78 61.64 L629.11 61.29 L630.44 60.95 L631.78 60.63 L633.11 60.31 L634.44 60.00 L635.77 59.71 L637.10 59.42 L638.43 59.13 L639.77 58.86 L641.10 58.60 L642.43 58.34 L643.76 58.09 L645.09 57.85 L646.43 57.61 L647.76 57.38 L649.09 57.16 L650.42 56.95 L651.75 56.74 L653.08 56.53 L654.42 56.34 L655.75 56.14 L657.08 55.96 L658.41 55.78 L659.74 55.60 L661.08 55.43 L662.41 55.27 L663.74 55.11 L665.07 54.95 L666.40 54.80 L667.74 54.65 L669.07 54.51 L670.40 54.37 L671.73 54.24 L673.06 54.11 L674.39 53.98 L675.73 53.86 L677.06 53.74 L678.39 53.63" fill="none" stroke="#e8404c" stroke-width="1.2"/>
<path d="M520.30 161.20V173.60M518.10 161.20h4.4M518.10 173.60h4.4M525.30 140.40V154.00M523.10 140.40h4.4M523.10 154.00h4.4M530.30 107.60V128.00M528.10 107.60h4.4M528.10 128.00h4.4M551.70 64.90V73.00M549.50 64.90h4.4M549.50 73.00h4.4M562.30 49.20V58.50M560.10 49.20h4.4M560.10 58.50h4.4" fill="none" stroke="#1c1c1c" stroke-width="0.9"/>
<path d="M519.70 156.70V186.20M517.50 156.70h4.4M517.50 186.20h4.4M535.80 137.90V148.20M533.60 137.90h4.4M533.60 148.20h4.4M572.60 88.50V105.40M570.40 88.50h4.4M570.40 105.40h4.4M625.60 50.40V58.70M623.40 50.40h4.4M623.40 58.70h4.4M678.30 49.40V71.30M676.10 49.40h4.4M676.10 71.30h4.4" fill="none" stroke="#e8404c" stroke-width="0.9"/>
<rect x="517.70" y="164.80" width="5.2" height="5.2" fill="#1c1c1c"/>
<rect x="522.70" y="144.60" width="5.2" height="5.2" fill="#1c1c1c"/>
<rect x="527.70" y="115.60" width="5.2" height="5.2" fill="#1c1c1c"/>
<rect x="538.60" y="89.60" width="5.2" height="5.2" fill="#1c1c1c"/>
<rect x="549.10" y="66.20" width="5.2" height="5.2" fill="#1c1c1c"/>
<rect x="559.70" y="51.20" width="5.2" height="5.2" fill="#1c1c1c"/>
<rect x="595.70" y="36.50" width="5.2" height="5.2" fill="#1c1c1c"/>
<circle cx="519.70" cy="171.30" r="3.0" fill="#e8404c"/>
<circle cx="535.80" cy="142.90" r="3.0" fill="#e8404c"/>
<circle cx="551.70" cy="114.70" r="3.0" fill="#e8404c"/>
<circle cx="572.60" cy="97.00" r="3.0" fill="#e8404c"/>
<circle cx="599.40" cy="74.50" r="3.0" fill="#e8404c"/>
<circle cx="625.60" cy="54.50" r="3.0" fill="#e8404c"/>
<circle cx="678.30" cy="60.50" r="3.0" fill="#e8404c"/>
</g>
<g clip-path="url(#clipkF)">
<clipPath id="clipkF"><rect x="514.8" y="259.8" width="168.80" height="174.60"/></clipPath>
<path d="M518.90 420.50 L519.57 415.87 L520.24 411.39 L520.91 407.05 L521.58 402.84 L522.25 398.77 L522.92 394.83 L523.59 391.01 L524.25 387.31 L524.92 383.73 L525.59 380.26 L526.26 376.90 L526.93 373.65 L527.60 370.50 L528.27 367.45 L528.94 364.50 L529.61 361.64 L530.28 358.87 L530.95 356.18 L531.62 353.59 L532.29 351.07 L532.96 348.64 L533.63 346.28 L534.29 343.99 L534.96 341.78 L535.63 339.64 L536.30 337.56 L536.97 335.56 L537.64 333.61 L538.31 331.73 L538.98 329.90 L539.65 328.13 L540.32 326.42 L540.99 324.77 L541.66 323.16 L542.33 321.61 L543.00 320.10 L543.67 318.65 L544.33 317.24 L545.00 315.87 L545.67 314.55 L546.34 313.27 L547.01 312.02 L547.68 310.82 L548.35 309.66 L549.02 308.53 L549.69 307.44 L550.36 306.38 L551.03 305.36 L551.70 304.37 L552.37 303.41 L553.04 302.48 L553.71 301.58 L554.37 300.71 L555.04 299.87 L555.71 299.05 L556.38 298.26 L557.05 297.49 L557.72 296.75 L558.39 296.03 L559.06 295.33 L559.73 294.66 L560.40 294.01 L561.07 293.37 L561.74 292.76 L562.41 292.17 L563.08 291.60 L563.74 291.04 L564.41 290.50 L565.08 289.98 L565.75 289.47 L566.42 288.99 L567.09 288.51 L567.76 288.05 L568.43 287.61 L569.10 287.18 L569.77 286.76 L570.44 286.36 L571.11 285.97 L571.78 285.59 L572.45 285.23 L573.12 284.87 L573.78 284.53 L574.45 284.20 L575.12 283.87 L575.79 283.56 L576.46 283.26 L577.13 282.97 L577.80 282.68 L578.47 282.41 L579.14 282.14 L579.81 281.89 L580.48 281.64 L581.15 281.40 L581.82 281.16 L582.49 280.94 L583.16 280.72 L583.82 280.51 L584.49 280.30 L585.16 280.10 L585.83 279.91 L586.50 279.72 L587.17 279.54 L587.84 279.37 L588.51 279.20 L589.18 279.03 L589.85 278.87 L590.52 278.72 L591.19 278.57 L591.86 278.43 L592.53 278.29 L593.20 278.15 L593.86 278.02 L594.53 277.89 L595.20 277.77 L595.87 277.65 L596.54 277.54 L597.21 277.43 L597.88 277.32 L598.55 277.21" fill="none" stroke="#1c1c1c" stroke-width="1.2"/>
<path d="M518.90 419.95 L520.24 417.20 L521.58 414.51 L522.92 411.90 L524.25 409.35 L525.59 406.87 L526.93 404.45 L528.27 402.10 L529.61 399.81 L530.95 397.57 L532.29 395.40 L533.63 393.28 L534.96 391.21 L536.30 389.20 L537.64 387.24 L538.98 385.34 L540.32 383.48 L541.66 381.67 L543.00 379.90 L544.33 378.18 L545.67 376.51 L547.01 374.88 L548.35 373.29 L549.69 371.74 L551.03 370.23 L552.37 368.77 L553.71 367.34 L555.04 365.94 L556.38 364.59 L557.72 363.26 L559.06 361.98 L560.40 360.72 L561.74 359.50 L563.08 358.31 L564.41 357.15 L565.75 356.02 L567.09 354.92 L568.43 353.85 L569.77 352.80 L571.11 351.79 L572.45 350.79 L573.78 349.83 L575.12 348.89 L576.46 347.97 L577.80 347.08 L579.14 346.21 L580.48 345.37 L581.82 344.54 L583.16 343.74 L584.49 342.95 L585.83 342.19 L587.17 341.45 L588.51 340.73 L589.85 340.02 L591.19 339.33 L592.53 338.67 L593.86 338.01 L595.20 337.38 L596.54 336.76 L597.88 336.16 L599.22 335.57 L600.56 335.00 L601.90 334.45 L603.24 333.90 L604.57 333.38 L605.91 332.86 L607.25 332.36 L608.59 331.87 L609.93 331.40 L611.27 330.93 L612.61 330.48 L613.94 330.04 L615.28 329.61 L616.62 329.20 L617.96 328.79 L619.30 328.39 L620.64 328.01 L621.98 327.63 L623.32 327.27 L624.65 326.91 L625.99 326.56 L627.33 326.23 L628.67 325.90 L630.01 325.58 L631.35 325.26 L632.69 324.96 L634.02 324.66 L635.36 324.37 L636.70 324.09 L638.04 323.82 L639.38 323.55 L640.72 323.29 L642.06 323.04 L643.39 322.79 L644.73 322.55 L646.07 322.31 L647.41 322.09 L648.75 321.86 L650.09 321.65 L651.43 321.44 L652.77 321.23 L654.10 321.03 L655.44 320.84 L656.78 320.65 L658.12 320.46 L659.46 320.28 L660.80 320.10 L662.14 319.93 L663.47 319.77 L664.81 319.60 L666.15 319.45 L667.49 319.29 L668.83 319.14 L670.17 319.00 L671.51 318.85 L672.85 318.72 L674.18 318.58 L675.52 318.45 L676.86 318.32 L678.20 318.20" fill="none" stroke="#e8404c" stroke-width="1.2"/>
<path d="M519.00 391.40V413.00M516.80 391.40h4.4M516.80 413.00h4.4M527.30 374.50V385.60M525.10 374.50h4.4M525.10 385.60h4.4M532.30 337.70V351.80M530.10 337.70h4.4M530.10 351.80h4.4M537.40 317.30V343.50M535.20 317.30h4.4M535.20 343.50h4.4M545.60 310.20V321.10M543.40 310.20h4.4M543.40 321.10h4.4M558.50 285.10V311.30M556.30 285.10h4.4M556.30 311.30h4.4M598.30 267.70V284.20M596.10 267.70h4.4M596.10 284.20h4.4" fill="none" stroke="#1c1c1c" stroke-width="0.9"/>
<path d="M519.00 414.00V422.60M516.80 414.00h4.4M516.80 422.60h4.4M545.50 373.40V388.00M543.30 373.40h4.4M543.30 388.00h4.4M572.10 346.30V353.10M569.90 346.30h4.4M569.90 353.10h4.4M598.70 327.20V340.80M596.50 327.20h4.4M596.50 340.80h4.4M625.50 327.20V335.70M623.30 327.20h4.4M623.30 335.70h4.4M651.80 321.30V327.20M649.60 321.30h4.4M649.60 327.20h4.4M678.40 309.60V319.10M676.20 309.60h4.4M676.20 319.10h4.4" fill="none" stroke="#e8404c" stroke-width="0.9"/>
<rect x="516.40" y="404.40" width="5.2" height="5.2" fill="#1c1c1c"/>
<rect x="524.70" y="377.60" width="5.2" height="5.2" fill="#1c1c1c"/>
<rect x="529.70" y="341.90" width="5.2" height="5.2" fill="#1c1c1c"/>
<rect x="534.80" y="327.40" width="5.2" height="5.2" fill="#1c1c1c"/>
<rect x="543.00" y="313.00" width="5.2" height="5.2" fill="#1c1c1c"/>
<rect x="555.90" y="295.70" width="5.2" height="5.2" fill="#1c1c1c"/>
<rect x="595.70" y="273.40" width="5.2" height="5.2" fill="#1c1c1c"/>
<circle cx="519.00" cy="418.30" r="3.0" fill="#e8404c"/>
<circle cx="545.50" cy="380.70" r="3.0" fill="#e8404c"/>
<circle cx="572.10" cy="350.00" r="3.0" fill="#e8404c"/>
<circle cx="598.70" cy="334.00" r="3.0" fill="#e8404c"/>
<circle cx="625.50" cy="331.30" r="3.0" fill="#e8404c"/>
<circle cx="651.80" cy="324.00" r="3.0" fill="#e8404c"/>
<circle cx="678.40" cy="314.50" r="3.0" fill="#e8404c"/>
</g>
</svg>
</body></html>
